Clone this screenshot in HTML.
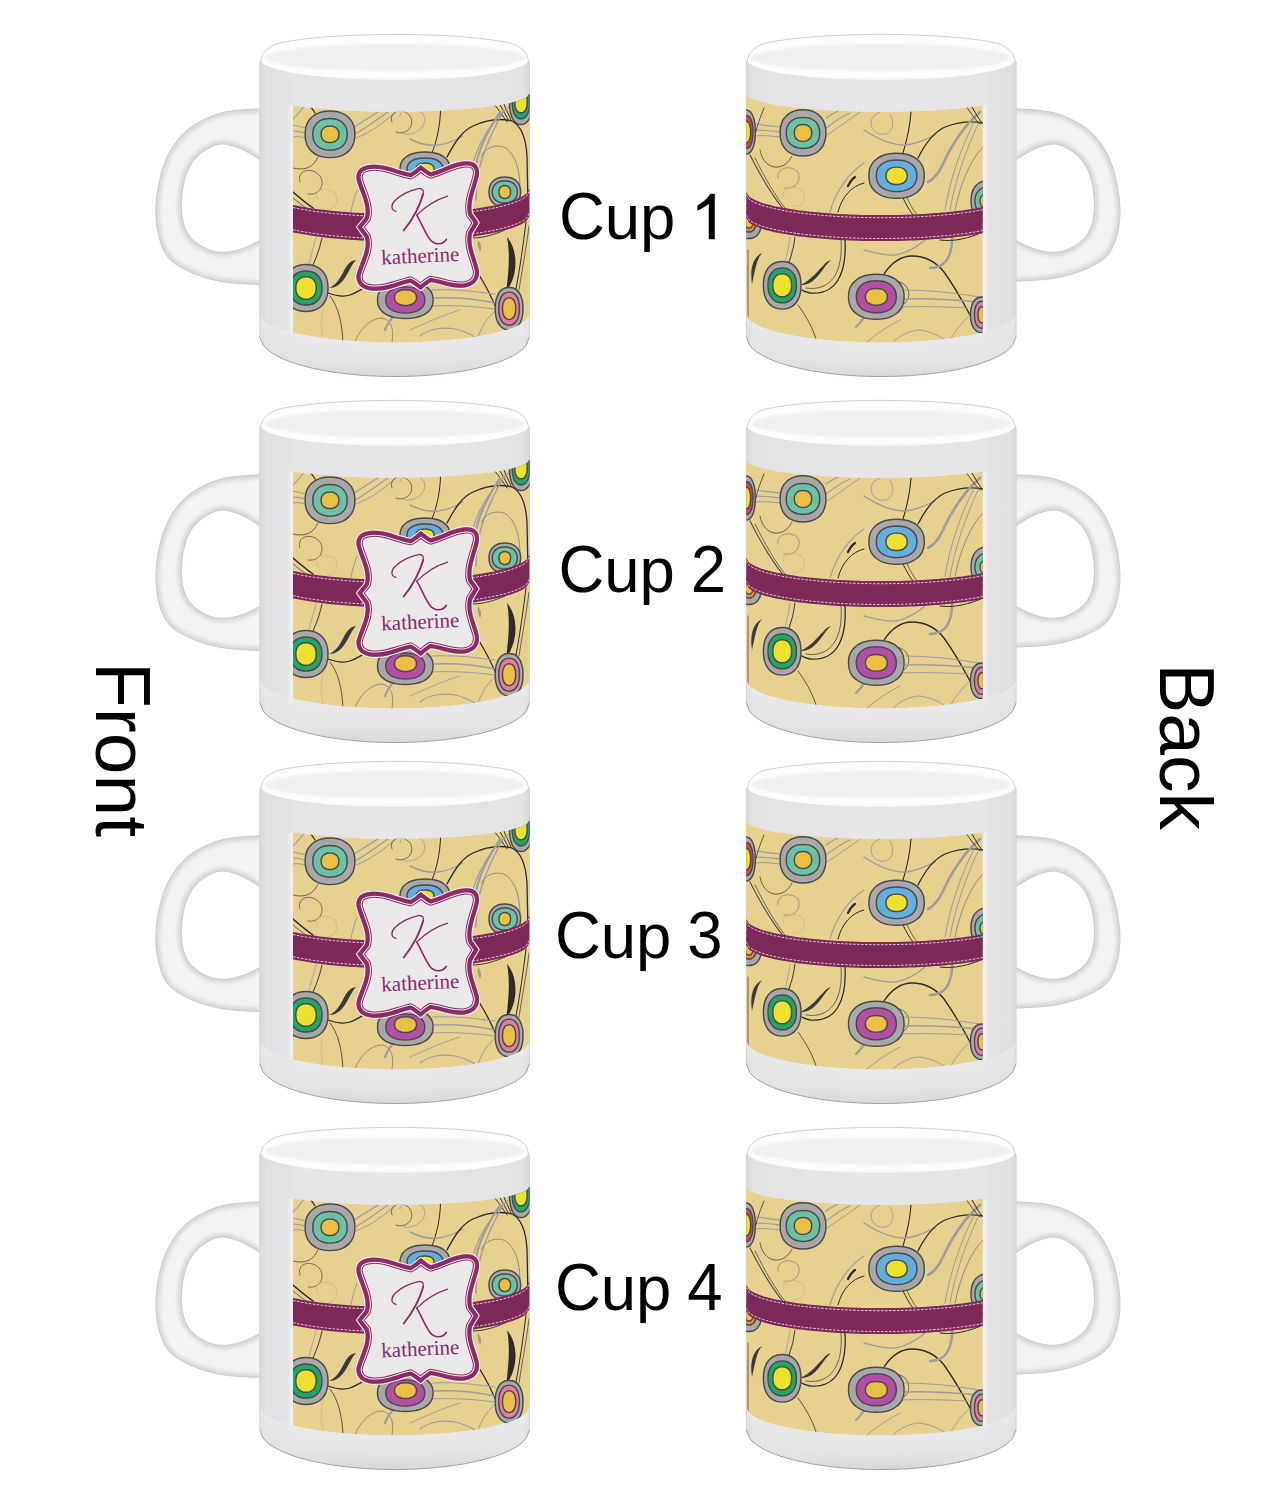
<!DOCTYPE html><html><head><meta charset="utf-8"><style>html,body{margin:0;padding:0;background:#fff;overflow:hidden}svg{display:block}</style></head><body><svg width="1275" height="1500" viewBox="0 0 1275 1500"><defs><clipPath id="clipF"><path d="M293,105.4 L296,105.9 L298.9,106.3 L301.9,106.7 L304.8,107.1 L307.8,107.4 L310.7,107.8 L313.7,108.1 L316.7,108.4 L319.6,108.6 L322.6,108.9 L325.5,109.1 L328.5,109.4 L331.4,109.6 L334.4,109.8 L337.4,110 L340.3,110.2 L343.3,110.4 L346.2,110.5 L349.2,110.7 L352.1,110.8 L355.1,110.9 L358.1,111.1 L361,111.2 L364,111.3 L366.9,111.4 L369.9,111.4 L372.9,111.5 L375.8,111.6 L378.8,111.6 L381.7,111.7 L384.7,111.7 L387.6,111.7 L390.6,111.7 L393.6,111.7 L396.5,111.7 L399.5,111.7 L402.4,111.7 L405.4,111.7 L408.3,111.7 L411.3,111.6 L414.3,111.6 L417.2,111.5 L420.2,111.4 L423.1,111.3 L426.1,111.3 L429,111.1 L432,111 L435,110.9 L437.9,110.8 L440.9,110.6 L443.8,110.5 L446.8,110.3 L449.7,110.2 L452.7,110 L455.7,109.8 L458.6,109.6 L461.6,109.3 L464.5,109.1 L467.5,108.9 L470.5,108.6 L473.4,108.3 L476.4,108 L479.3,107.7 L482.3,107.4 L485.2,107 L488.2,106.6 L491.2,106.2 L494.1,105.8 L497.1,105.4 L500,104.9 L503,104.4 L505.9,103.8 L508.9,103.2 L511.9,102.5 L514.8,101.8 L517.8,100.9 L520.7,100 L523.7,98.8 L526.6,97.3 L529.6,93.5 L529.6,313.7 L526.6,319.7 L523.7,322.1 L520.7,323.9 L517.8,325.5 L514.8,326.8 L511.9,327.9 L508.9,329 L505.9,329.9 L503,330.8 L500,331.6 L497.1,332.4 L494.1,333.1 L491.2,333.8 L488.2,334.4 L485.2,335 L482.3,335.5 L479.3,336.1 L476.4,336.5 L473.4,337 L470.5,337.5 L467.5,337.9 L464.5,338.3 L461.6,338.6 L458.6,339 L455.7,339.3 L452.7,339.6 L449.7,339.9 L446.8,340.2 L443.8,340.4 L440.9,340.7 L437.9,340.9 L435,341.1 L432,341.3 L429,341.5 L426.1,341.6 L423.1,341.8 L420.2,341.9 L417.2,342 L414.3,342.1 L411.3,342.2 L408.3,342.3 L405.4,342.3 L402.4,342.4 L399.5,342.4 L396.5,342.4 L393.6,342.4 L390.6,342.4 L387.6,342.4 L384.7,342.3 L381.7,342.3 L378.8,342.2 L375.8,342.1 L372.9,342 L369.9,341.9 L366.9,341.8 L364,341.6 L361,341.5 L358.1,341.3 L355.1,341.1 L352.1,340.9 L349.2,340.7 L346.2,340.5 L343.3,340.2 L340.3,340 L337.4,339.7 L334.4,339.4 L331.4,339 L328.5,338.7 L325.5,338.3 L322.6,337.9 L319.6,337.5 L316.7,337.1 L313.7,336.6 L310.7,336.1 L307.8,335.6 L304.8,335.1 L301.9,334.5 L298.9,333.9 L296,333.2 L293,332.5Z"/></clipPath><clipPath id="clipB"><path d="M746.2,93.5 L749.2,97.3 L752.1,98.8 L755.1,100 L758,100.9 L761,101.8 L763.9,102.5 L766.9,103.2 L769.9,103.8 L772.8,104.4 L775.8,104.9 L778.7,105.4 L781.7,105.8 L784.6,106.2 L787.6,106.6 L790.6,107 L793.5,107.4 L796.5,107.7 L799.4,108 L802.4,108.3 L805.4,108.6 L808.3,108.9 L811.3,109.1 L814.2,109.3 L817.2,109.6 L820.1,109.8 L823.1,110 L826.1,110.2 L829,110.3 L832,110.5 L834.9,110.6 L837.9,110.8 L840.8,110.9 L843.8,111 L846.8,111.1 L849.7,111.3 L852.7,111.3 L855.6,111.4 L858.6,111.5 L861.5,111.6 L864.5,111.6 L867.5,111.7 L870.4,111.7 L873.4,111.7 L876.3,111.7 L879.3,111.7 L882.2,111.7 L885.2,111.7 L888.2,111.7 L891.1,111.7 L894.1,111.7 L897,111.6 L900,111.6 L902.9,111.5 L905.9,111.4 L908.9,111.4 L911.8,111.3 L914.8,111.2 L917.7,111.1 L920.7,110.9 L923.6,110.8 L926.6,110.7 L929.6,110.5 L932.5,110.4 L935.5,110.2 L938.4,110 L941.4,109.8 L944.4,109.6 L947.3,109.4 L950.3,109.1 L953.2,108.9 L956.2,108.6 L959.1,108.4 L962.1,108.1 L965.1,107.8 L968,107.4 L971,107.1 L973.9,106.7 L976.9,106.3 L979.8,105.9 L982.8,105.4 L982.8,332.5 L979.8,333.2 L976.9,333.9 L973.9,334.5 L971,335.1 L968,335.6 L965.1,336.1 L962.1,336.6 L959.1,337.1 L956.2,337.5 L953.2,337.9 L950.3,338.3 L947.3,338.7 L944.4,339 L941.4,339.4 L938.4,339.7 L935.5,340 L932.5,340.2 L929.6,340.5 L926.6,340.7 L923.6,340.9 L920.7,341.1 L917.7,341.3 L914.8,341.5 L911.8,341.6 L908.9,341.8 L905.9,341.9 L902.9,342 L900,342.1 L897,342.2 L894.1,342.3 L891.1,342.3 L888.2,342.4 L885.2,342.4 L882.2,342.4 L879.3,342.4 L876.3,342.4 L873.4,342.4 L870.4,342.3 L867.5,342.3 L864.5,342.2 L861.5,342.1 L858.6,342 L855.6,341.9 L852.7,341.8 L849.7,341.6 L846.8,341.5 L843.8,341.3 L840.8,341.1 L837.9,340.9 L834.9,340.7 L832,340.4 L829,340.2 L826.1,339.9 L823.1,339.6 L820.1,339.3 L817.2,339 L814.2,338.6 L811.3,338.3 L808.3,337.9 L805.4,337.5 L802.4,337 L799.4,336.5 L796.5,336.1 L793.5,335.5 L790.6,335 L787.6,334.4 L784.6,333.8 L781.7,333.1 L778.7,332.4 L775.8,331.6 L772.8,330.8 L769.9,329.9 L766.9,329 L763.9,327.9 L761,326.8 L758,325.5 L755.1,323.9 L752.1,322.1 L749.2,319.7 L746.2,313.7Z"/></clipPath><clipPath id="clipL"><path d="M420.7,165.1 C417.6,167.4 414,171.2 410.3,173 C397.8,170.6 386.2,164 372.6,164.7 C361.3,164.8 355.2,170.5 356.7,179.7 C359.3,190.9 368.5,205.4 364.9,217.4 C362.3,220.8 359.3,224.2 357.2,227.1 C359.3,230.2 362.3,233.9 364.9,237.5 C368.5,249.8 359.3,263.5 356.7,274.4 C355.2,283.4 361.3,289.8 372.6,290.7 C386.2,292 397.8,285.5 410.3,282.8 C414,284.5 417.6,288 420.7,290.1 C423.8,287.8 427.4,284 431,282.1 C443,283.9 453.6,289.6 465.6,287.3 C475.1,285.6 480.1,278.9 478.9,270 C476.8,259.2 469.1,246.1 472.1,233.6 C474.3,229.8 476.8,225.9 478.5,222.7 C476.8,219.9 474.3,216.7 472.1,213.5 C469.1,201.8 476.8,186.6 478.9,175.2 C480.1,166 475.1,160.6 465.6,161.3 C453.6,161.6 443,169 431,172.2 C427.4,170.7 423.8,167.2 420.7,165.1 Z"/></clipPath><clipPath id="clipHF"><path d="M262,108.6 C255,109.4 232.8,109.4 220,113.3 C207.2,117.2 194.3,123.5 185,132 C175.7,140.6 168.9,151.4 164,164.6 C159.1,177.8 155.8,196.9 155.8,211.3 C155.8,225.7 159.1,241.3 164,251 C168.9,260.7 175.7,264.6 185,269.6 C194.3,274.7 207.2,278.8 220,281.3 C232.8,283.8 255,284.2 262,284.8 L262,239.3 C259,240.8 250.2,245.8 244,248 C237.8,250.2 230.9,252.2 224.6,252.3 C218.3,252.4 212,251.6 206,248.6 C200,245.6 192.6,240.8 188.5,234.6 C184.4,228.4 182.2,220.4 181.5,211.3 C180.8,202.2 182.1,188.9 184.5,180 C186.9,171.1 190.4,163.9 196,158 C201.6,152.1 210.7,146.1 218,144.5 C225.3,142.9 232.7,145.7 240,148.5 C247.3,151.3 258.3,159 262,161.1 Z"/></clipPath><clipPath id="clipHB"><path d="M1013.8,108.6 C1020.8,109.4 1043,109.4 1055.8,113.3 C1068.6,117.2 1081.5,123.5 1090.8,132 C1100.1,140.6 1106.9,151.4 1111.8,164.6 C1116.7,177.8 1120,197.2 1120,211.3 C1120,225.4 1116.7,239.8 1111.8,249.1 C1106.9,258.4 1100.1,262 1090.8,266.8 C1081.5,271.6 1068.6,275.6 1055.8,278 C1043,280.4 1020.8,280.7 1013.8,281.3 L1013.8,239.3 C1016.8,240.8 1025.6,245.8 1031.8,248 C1038,250.2 1044.9,252.2 1051.2,252.3 C1057.5,252.4 1063.8,251.6 1069.8,248.6 C1075.8,245.6 1083.2,240.8 1087.3,234.6 C1091.4,228.4 1093.6,220.4 1094.3,211.3 C1095,202.2 1093.7,188.9 1091.3,180 C1088.9,171.1 1085.4,163.9 1079.8,158 C1074.2,152.1 1065.1,146.1 1057.8,144.5 C1050.5,142.9 1043.1,145.7 1035.8,148.5 C1028.5,151.3 1017.5,159 1013.8,161.1 Z"/></clipPath><filter id="hblur" x="-10%" y="-10%" width="120%" height="120%"><feGaussianBlur stdDeviation="1.6"/></filter><filter id="soft" x="-5%" y="-30%" width="110%" height="160%"><feGaussianBlur stdDeviation="1.2"/></filter><linearGradient id="bgrad" gradientUnits="userSpaceOnUse" x1="259.6" x2="529.6" y1="0" y2="0"><stop offset="0" stop-color="#dcd9dc"/><stop offset="0.025" stop-color="#e1dfe1"/><stop offset="0.1" stop-color="#e3e1e3"/><stop offset="0.125" stop-color="#e6e4e6"/><stop offset="0.6" stop-color="#e7e5e7"/><stop offset="0.975" stop-color="#e3e1e3"/><stop offset="1" stop-color="#dad6d9"/></linearGradient><linearGradient id="stripgrad" gradientUnits="userSpaceOnUse" x1="287.5" x2="293" y1="0" y2="0"><stop offset="0" stop-color="#ffffff" stop-opacity="0"/><stop offset="0.7" stop-color="#ffffff" stop-opacity="0.4"/><stop offset="1" stop-color="#ffffff" stop-opacity="0.3"/></linearGradient><linearGradient id="botgrad" gradientUnits="userSpaceOnUse" x1="0" x2="0" y1="318" y2="377"><stop offset="0" stop-color="#ffffff" stop-opacity="0.35"/><stop offset="0.35" stop-color="#ffffff" stop-opacity="0.1"/><stop offset="0.8" stop-color="#d9d4d7" stop-opacity="0.25"/><stop offset="1" stop-color="#c9c2c5" stop-opacity="0.5"/></linearGradient><linearGradient id="capgrad" gradientUnits="userSpaceOnUse" x1="0" x2="0" y1="34" y2="84"><stop offset="0" stop-color="#fdfdfd"/><stop offset="0.85" stop-color="#fdfdfd"/><stop offset="1" stop-color="#f6f5f6" stop-opacity="0.3"/></linearGradient><linearGradient id="hgrad" gradientUnits="userSpaceOnUse" x1="0" x2="0" y1="108" y2="287"><stop offset="0" stop-color="#fafafa"/><stop offset="0.5" stop-color="#f6f5f6"/><stop offset="1" stop-color="#efedef"/></linearGradient></defs><g id="row"><path d="M262,108.6 C255,109.4 232.8,109.4 220,113.3 C207.2,117.2 194.3,123.5 185,132 C175.7,140.6 168.9,151.4 164,164.6 C159.1,177.8 155.8,196.9 155.8,211.3 C155.8,225.7 159.1,241.3 164,251 C168.9,260.7 175.7,264.6 185,269.6 C194.3,274.7 207.2,278.8 220,281.3 C232.8,283.8 255,284.2 262,284.8 L262,239.3 C259,240.8 250.2,245.8 244,248 C237.8,250.2 230.9,252.2 224.6,252.3 C218.3,252.4 212,251.6 206,248.6 C200,245.6 192.6,240.8 188.5,234.6 C184.4,228.4 182.2,220.4 181.5,211.3 C180.8,202.2 182.1,188.9 184.5,180 C186.9,171.1 190.4,163.9 196,158 C201.6,152.1 210.7,146.1 218,144.5 C225.3,142.9 232.7,145.7 240,148.5 C247.3,151.3 258.3,159 262,161.1 Z" fill="#f4f3f4"/><g clip-path="url(#clipHF)"><g filter="url(#hblur)"><path d="M262,108.6 C255,109.4 232.8,109.4 220,113.3 C207.2,117.2 194.3,123.5 185,132 C175.7,140.6 168.9,151.4 164,164.6 C159.1,177.8 155.8,196.9 155.8,211.3 C155.8,225.7 159.1,241.3 164,251 C168.9,260.7 175.7,264.6 185,269.6 C194.3,274.7 207.2,278.8 220,281.3 C232.8,283.8 255,284.2 262,284.8" fill="none" stroke="#e2dfe2" stroke-width="9"/><path d="M262,108.6 C255,109.4 232.8,109.4 220,113.3 C207.2,117.2 194.3,123.5 185,132 C175.7,140.6 168.9,151.4 164,164.6 C159.1,177.8 155.8,196.9 155.8,211.3 C155.8,225.7 159.1,241.3 164,251 C168.9,260.7 175.7,264.6 185,269.6 C194.3,274.7 207.2,278.8 220,281.3 C232.8,283.8 255,284.2 262,284.8" fill="none" stroke="#d9d5d8" stroke-width="3.5"/><path d="M262,239.3 C259,240.8 250.2,245.8 244,248 C237.8,250.2 230.9,252.2 224.6,252.3 C218.3,252.4 212,251.6 206,248.6 C200,245.6 192.6,240.8 188.5,234.6 C184.4,228.4 182.2,220.4 181.5,211.3 C180.8,202.2 182.1,188.9 184.5,180 C186.9,171.1 190.4,163.9 196,158 C201.6,152.1 210.7,146.1 218,144.5 C225.3,142.9 232.7,145.7 240,148.5 C247.3,151.3 258.3,159 262,161.1" fill="none" stroke="#e1dee1" stroke-width="9"/><path d="M262,239.3 C259,240.8 250.2,245.8 244,248 C237.8,250.2 230.9,252.2 224.6,252.3 C218.3,252.4 212,251.6 206,248.6 C200,245.6 192.6,240.8 188.5,234.6 C184.4,228.4 182.2,220.4 181.5,211.3 C180.8,202.2 182.1,188.9 184.5,180 C186.9,171.1 190.4,163.9 196,158 C201.6,152.1 210.7,146.1 218,144.5 C225.3,142.9 232.7,145.7 240,148.5 C247.3,151.3 258.3,159 262,161.1" fill="none" stroke="#d6d2d5" stroke-width="3"/></g></g><path d="M262,108.6 C255,109.4 232.8,109.4 220,113.3 C207.2,117.2 194.3,123.5 185,132 C175.7,140.6 168.9,151.4 164,164.6 C159.1,177.8 155.8,196.9 155.8,211.3 C155.8,225.7 159.1,241.3 164,251 C168.9,260.7 175.7,264.6 185,269.6 C194.3,274.7 207.2,278.8 220,281.3 C232.8,283.8 255,284.2 262,284.8 L262,239.3 C259,240.8 250.2,245.8 244,248 C237.8,250.2 230.9,252.2 224.6,252.3 C218.3,252.4 212,251.6 206,248.6 C200,245.6 192.6,240.8 188.5,234.6 C184.4,228.4 182.2,220.4 181.5,211.3 C180.8,202.2 182.1,188.9 184.5,180 C186.9,171.1 190.4,163.9 196,158 C201.6,152.1 210.7,146.1 218,144.5 C225.3,142.9 232.7,145.7 240,148.5 C247.3,151.3 258.3,159 262,161.1 Z" fill="none" stroke="#c9c5c8" stroke-width="0.9"/><path d="M1013.8,108.6 C1020.8,109.4 1043,109.4 1055.8,113.3 C1068.6,117.2 1081.5,123.5 1090.8,132 C1100.1,140.6 1106.9,151.4 1111.8,164.6 C1116.7,177.8 1120,197.2 1120,211.3 C1120,225.4 1116.7,239.8 1111.8,249.1 C1106.9,258.4 1100.1,262 1090.8,266.8 C1081.5,271.6 1068.6,275.6 1055.8,278 C1043,280.4 1020.8,280.7 1013.8,281.3 L1013.8,239.3 C1016.8,240.8 1025.6,245.8 1031.8,248 C1038,250.2 1044.9,252.2 1051.2,252.3 C1057.5,252.4 1063.8,251.6 1069.8,248.6 C1075.8,245.6 1083.2,240.8 1087.3,234.6 C1091.4,228.4 1093.6,220.4 1094.3,211.3 C1095,202.2 1093.7,188.9 1091.3,180 C1088.9,171.1 1085.4,163.9 1079.8,158 C1074.2,152.1 1065.1,146.1 1057.8,144.5 C1050.5,142.9 1043.1,145.7 1035.8,148.5 C1028.5,151.3 1017.5,159 1013.8,161.1 Z" fill="#f4f3f4"/><g clip-path="url(#clipHB)"><g filter="url(#hblur)"><path d="M1013.8,108.6 C1020.8,109.4 1043,109.4 1055.8,113.3 C1068.6,117.2 1081.5,123.5 1090.8,132 C1100.1,140.6 1106.9,151.4 1111.8,164.6 C1116.7,177.8 1120,197.2 1120,211.3 C1120,225.4 1116.7,239.8 1111.8,249.1 C1106.9,258.4 1100.1,262 1090.8,266.8 C1081.5,271.6 1068.6,275.6 1055.8,278 C1043,280.4 1020.8,280.7 1013.8,281.3" fill="none" stroke="#e2dfe2" stroke-width="9"/><path d="M1013.8,108.6 C1020.8,109.4 1043,109.4 1055.8,113.3 C1068.6,117.2 1081.5,123.5 1090.8,132 C1100.1,140.6 1106.9,151.4 1111.8,164.6 C1116.7,177.8 1120,197.2 1120,211.3 C1120,225.4 1116.7,239.8 1111.8,249.1 C1106.9,258.4 1100.1,262 1090.8,266.8 C1081.5,271.6 1068.6,275.6 1055.8,278 C1043,280.4 1020.8,280.7 1013.8,281.3" fill="none" stroke="#d9d5d8" stroke-width="3.5"/><path d="M1013.8,239.3 C1016.8,240.8 1025.6,245.8 1031.8,248 C1038,250.2 1044.9,252.2 1051.2,252.3 C1057.5,252.4 1063.8,251.6 1069.8,248.6 C1075.8,245.6 1083.2,240.8 1087.3,234.6 C1091.4,228.4 1093.6,220.4 1094.3,211.3 C1095,202.2 1093.7,188.9 1091.3,180 C1088.9,171.1 1085.4,163.9 1079.8,158 C1074.2,152.1 1065.1,146.1 1057.8,144.5 C1050.5,142.9 1043.1,145.7 1035.8,148.5 C1028.5,151.3 1017.5,159 1013.8,161.1" fill="none" stroke="#e1dee1" stroke-width="9"/><path d="M1013.8,239.3 C1016.8,240.8 1025.6,245.8 1031.8,248 C1038,250.2 1044.9,252.2 1051.2,252.3 C1057.5,252.4 1063.8,251.6 1069.8,248.6 C1075.8,245.6 1083.2,240.8 1087.3,234.6 C1091.4,228.4 1093.6,220.4 1094.3,211.3 C1095,202.2 1093.7,188.9 1091.3,180 C1088.9,171.1 1085.4,163.9 1079.8,158 C1074.2,152.1 1065.1,146.1 1057.8,144.5 C1050.5,142.9 1043.1,145.7 1035.8,148.5 C1028.5,151.3 1017.5,159 1013.8,161.1" fill="none" stroke="#d6d2d5" stroke-width="3"/></g></g><path d="M1013.8,108.6 C1020.8,109.4 1043,109.4 1055.8,113.3 C1068.6,117.2 1081.5,123.5 1090.8,132 C1100.1,140.6 1106.9,151.4 1111.8,164.6 C1116.7,177.8 1120,197.2 1120,211.3 C1120,225.4 1116.7,239.8 1111.8,249.1 C1106.9,258.4 1100.1,262 1090.8,266.8 C1081.5,271.6 1068.6,275.6 1055.8,278 C1043,280.4 1020.8,280.7 1013.8,281.3 L1013.8,239.3 C1016.8,240.8 1025.6,245.8 1031.8,248 C1038,250.2 1044.9,252.2 1051.2,252.3 C1057.5,252.4 1063.8,251.6 1069.8,248.6 C1075.8,245.6 1083.2,240.8 1087.3,234.6 C1091.4,228.4 1093.6,220.4 1094.3,211.3 C1095,202.2 1093.7,188.9 1091.3,180 C1088.9,171.1 1085.4,163.9 1079.8,158 C1074.2,152.1 1065.1,146.1 1057.8,144.5 C1050.5,142.9 1043.1,145.7 1035.8,148.5 C1028.5,151.3 1017.5,159 1013.8,161.1 Z" fill="none" stroke="#c9c5c8" stroke-width="0.9"/><path d="M259.6,63.3 L263,53.7 L266.4,49.9 L269.7,47.4 L273.1,45.5 L276.5,44 L279.9,43 L283.2,42.3 L286.6,41.6 L290,41 L293.4,40.5 L296.7,40 L300.1,39.6 L303.5,39.1 L306.9,38.7 L310.2,38.4 L313.6,38 L317,37.7 L320.4,37.4 L323.7,37.1 L327.1,36.8 L330.5,36.6 L333.9,36.3 L337.2,36.1 L340.6,35.9 L344,35.7 L347.4,35.5 L350.7,35.4 L354.1,35.2 L357.5,35.1 L360.9,35 L364.2,34.9 L367.6,34.8 L371,34.7 L374.4,34.6 L377.7,34.5 L381.1,34.5 L384.5,34.5 L387.9,34.4 L391.2,34.4 L394.6,34.4 L398,34.4 L401.4,34.4 L404.7,34.4 L408.1,34.5 L411.5,34.5 L414.9,34.6 L418.2,34.7 L421.6,34.8 L425,34.9 L428.4,35 L431.7,35.1 L435.1,35.2 L438.5,35.4 L441.9,35.5 L445.2,35.7 L448.6,35.9 L452,36.1 L455.4,36.3 L458.7,36.5 L462.1,36.8 L465.5,37.1 L468.9,37.3 L472.2,37.6 L475.6,38 L479,38.3 L482.4,38.7 L485.7,39.1 L489.1,39.5 L492.5,40 L495.9,40.5 L499.2,41 L502.6,41.6 L506,42.2 L509.4,42.9 L512.7,43.9 L516.1,45.3 L519.5,47.2 L522.9,49.8 L526.2,53.5 L529.6,63.3 L529.6,336.5 L526.2,345.4 L522.9,349 L519.5,351.7 L516.1,353.9 L512.7,355.9 L509.4,357.6 L506,359.1 L502.6,360.5 L499.2,361.8 L495.9,363 L492.5,364.1 L489.1,365.1 L485.7,366 L482.4,366.9 L479,367.7 L475.6,368.5 L472.2,369.2 L468.9,369.9 L465.5,370.6 L462.1,371.2 L458.7,371.7 L455.4,372.2 L452,372.7 L448.6,373.2 L445.2,373.6 L441.9,374 L438.5,374.3 L435.1,374.7 L431.7,375 L428.4,375.2 L425,375.5 L421.6,375.7 L418.2,375.9 L414.9,376.1 L411.5,376.2 L408.1,376.3 L404.7,376.4 L401.4,376.5 L398,376.5 L394.6,376.5 L391.2,376.5 L387.9,376.4 L384.5,376.4 L381.1,376.3 L377.7,376.2 L374.4,376 L371,375.9 L367.6,375.7 L364.2,375.5 L360.9,375.2 L357.5,374.9 L354.1,374.6 L350.7,374.3 L347.4,373.9 L344,373.5 L340.6,373.1 L337.2,372.7 L333.9,372.2 L330.5,371.7 L327.1,371.1 L323.7,370.5 L320.4,369.8 L317,369.2 L313.6,368.4 L310.2,367.6 L306.9,366.8 L303.5,365.9 L300.1,365 L296.7,363.9 L293.4,362.8 L290,361.6 L286.6,360.4 L283.2,358.9 L279.9,357.4 L276.5,355.7 L273.1,353.7 L269.7,351.4 L266.4,348.6 L263,344.9 L259.6,336.5Z" fill="url(#bgrad)"/><path d="M259.6,313.7 L263,319.7 L266.4,322.4 L269.7,324.4 L273.1,326 L276.5,327.4 L279.9,328.7 L283.2,329.8 L286.6,330.8 L290,331.7 L293.4,332.6 L296.7,333.4 L300.1,334.1 L303.5,334.8 L306.9,335.4 L310.2,336 L313.6,336.6 L317,337.1 L320.4,337.6 L323.7,338.1 L327.1,338.5 L330.5,338.9 L333.9,339.3 L337.2,339.7 L340.6,340 L344,340.3 L347.4,340.6 L350.7,340.8 L354.1,341.1 L357.5,341.3 L360.9,341.5 L364.2,341.7 L367.6,341.8 L371,341.9 L374.4,342.1 L377.7,342.2 L381.1,342.3 L384.5,342.3 L387.9,342.4 L391.2,342.4 L394.6,342.4 L398,342.4 L401.4,342.4 L404.7,342.3 L408.1,342.3 L411.5,342.2 L414.9,342.1 L418.2,342 L421.6,341.8 L425,341.7 L428.4,341.5 L431.7,341.3 L435.1,341.1 L438.5,340.9 L441.9,340.6 L445.2,340.3 L448.6,340 L452,339.7 L455.4,339.3 L458.7,339 L462.1,338.6 L465.5,338.1 L468.9,337.7 L472.2,337.2 L475.6,336.7 L479,336.1 L482.4,335.5 L485.7,334.9 L489.1,334.2 L492.5,333.5 L495.9,332.7 L499.2,331.8 L502.6,330.9 L506,329.9 L509.4,328.8 L512.7,327.6 L516.1,326.2 L519.5,324.6 L522.9,322.7 L526.2,320.1 L529.6,313.7 L529.6,336.5 L526.2,345.4 L522.9,349 L519.5,351.7 L516.1,353.9 L512.7,355.9 L509.4,357.6 L506,359.1 L502.6,360.5 L499.2,361.8 L495.9,363 L492.5,364.1 L489.1,365.1 L485.7,366 L482.4,366.9 L479,367.7 L475.6,368.5 L472.2,369.2 L468.9,369.9 L465.5,370.6 L462.1,371.2 L458.7,371.7 L455.4,372.2 L452,372.7 L448.6,373.2 L445.2,373.6 L441.9,374 L438.5,374.3 L435.1,374.7 L431.7,375 L428.4,375.2 L425,375.5 L421.6,375.7 L418.2,375.9 L414.9,376.1 L411.5,376.2 L408.1,376.3 L404.7,376.4 L401.4,376.5 L398,376.5 L394.6,376.5 L391.2,376.5 L387.9,376.4 L384.5,376.4 L381.1,376.3 L377.7,376.2 L374.4,376 L371,375.9 L367.6,375.7 L364.2,375.5 L360.9,375.2 L357.5,374.9 L354.1,374.6 L350.7,374.3 L347.4,373.9 L344,373.5 L340.6,373.1 L337.2,372.7 L333.9,372.2 L330.5,371.7 L327.1,371.1 L323.7,370.5 L320.4,369.8 L317,369.2 L313.6,368.4 L310.2,367.6 L306.9,366.8 L303.5,365.9 L300.1,365 L296.7,363.9 L293.4,362.8 L290,361.6 L286.6,360.4 L283.2,358.9 L279.9,357.4 L276.5,355.7 L273.1,353.7 L269.7,351.4 L266.4,348.6 L263,344.9 L259.6,336.5Z" fill="url(#botgrad)"/><path d="M288,105.8 L293,105.8 L293,333 L288,332 Z" fill="url(#stripgrad)"/><path d="M259.6,63.3 L263,53.7 L266.4,49.9 L269.7,47.4 L273.1,45.5 L276.5,44 L279.9,43 L283.2,42.3 L286.6,41.6 L290,41 L293.4,40.5 L296.7,40 L300.1,39.6 L303.5,39.1 L306.9,38.7 L310.2,38.4 L313.6,38 L317,37.7 L320.4,37.4 L323.7,37.1 L327.1,36.8 L330.5,36.6 L333.9,36.3 L337.2,36.1 L340.6,35.9 L344,35.7 L347.4,35.5 L350.7,35.4 L354.1,35.2 L357.5,35.1 L360.9,35 L364.2,34.9 L367.6,34.8 L371,34.7 L374.4,34.6 L377.7,34.5 L381.1,34.5 L384.5,34.5 L387.9,34.4 L391.2,34.4 L394.6,34.4 L398,34.4 L401.4,34.4 L404.7,34.4 L408.1,34.5 L411.5,34.5 L414.9,34.6 L418.2,34.7 L421.6,34.8 L425,34.9 L428.4,35 L431.7,35.1 L435.1,35.2 L438.5,35.4 L441.9,35.5 L445.2,35.7 L448.6,35.9 L452,36.1 L455.4,36.3 L458.7,36.5 L462.1,36.8 L465.5,37.1 L468.9,37.3 L472.2,37.6 L475.6,38 L479,38.3 L482.4,38.7 L485.7,39.1 L489.1,39.5 L492.5,40 L495.9,40.5 L499.2,41 L502.6,41.6 L506,42.2 L509.4,42.9 L512.7,43.9 L516.1,45.3 L519.5,47.2 L522.9,49.8 L526.2,53.5 L529.6,63.3 L529.6,59 L526.2,63.7 L522.9,65.6 L519.5,67 L516.1,68.2 L512.7,69.2 L509.4,70.1 L506,70.9 L502.6,71.6 L499.2,72.3 L495.9,72.9 L492.5,73.5 L489.1,74 L485.7,74.5 L482.4,75 L479,75.4 L475.6,75.8 L472.2,76.2 L468.9,76.5 L465.5,76.9 L462.1,77.2 L458.7,77.5 L455.4,77.8 L452,78 L448.6,78.3 L445.2,78.5 L441.9,78.7 L438.5,78.9 L435.1,79 L431.7,79.2 L428.4,79.3 L425,79.5 L421.6,79.6 L418.2,79.7 L414.9,79.8 L411.5,79.8 L408.1,79.9 L404.7,79.9 L401.4,80 L398,80 L394.6,80 L391.2,80 L387.9,80 L384.5,79.9 L381.1,79.9 L377.7,79.8 L374.4,79.8 L371,79.7 L367.6,79.6 L364.2,79.5 L360.9,79.3 L357.5,79.2 L354.1,79 L350.7,78.8 L347.4,78.7 L344,78.5 L340.6,78.2 L337.2,78 L333.9,77.7 L330.5,77.5 L327.1,77.2 L323.7,76.8 L320.4,76.5 L317,76.1 L313.6,75.8 L310.2,75.4 L306.9,74.9 L303.5,74.4 L300.1,73.9 L296.7,73.4 L293.4,72.8 L290,72.2 L286.6,71.5 L283.2,70.8 L279.9,70 L276.5,69.1 L273.1,68 L269.7,66.8 L266.4,65.4 L263,63.4 L259.6,59Z" fill="url(#capgrad)"/><path d="M265.1,57.7 A129.7,13.8 0 0 1 524.5,57.7 A129.7,13.8 0 0 1 265.1,57.7Z" fill="#f0f0f1" filter="url(#soft)"/><path d="M259.6,63.3 L263,53.7 L266.4,49.9 L269.7,47.4 L273.1,45.5 L276.5,44 L279.9,43 L283.2,42.3 L286.6,41.6 L290,41 L293.4,40.5 L296.7,40 L300.1,39.6 L303.5,39.1 L306.9,38.7 L310.2,38.4 L313.6,38 L317,37.7 L320.4,37.4 L323.7,37.1 L327.1,36.8 L330.5,36.6 L333.9,36.3 L337.2,36.1 L340.6,35.9 L344,35.7 L347.4,35.5 L350.7,35.4 L354.1,35.2 L357.5,35.1 L360.9,35 L364.2,34.9 L367.6,34.8 L371,34.7 L374.4,34.6 L377.7,34.5 L381.1,34.5 L384.5,34.5 L387.9,34.4 L391.2,34.4 L394.6,34.4 L398,34.4 L401.4,34.4 L404.7,34.4 L408.1,34.5 L411.5,34.5 L414.9,34.6 L418.2,34.7 L421.6,34.8 L425,34.9 L428.4,35 L431.7,35.1 L435.1,35.2 L438.5,35.4 L441.9,35.5 L445.2,35.7 L448.6,35.9 L452,36.1 L455.4,36.3 L458.7,36.5 L462.1,36.8 L465.5,37.1 L468.9,37.3 L472.2,37.6 L475.6,38 L479,38.3 L482.4,38.7 L485.7,39.1 L489.1,39.5 L492.5,40 L495.9,40.5 L499.2,41 L502.6,41.6 L506,42.2 L509.4,42.9 L512.7,43.9 L516.1,45.3 L519.5,47.2 L522.9,49.8 L526.2,53.5 L529.6,63.3" fill="none" stroke="#cdc8cb" stroke-width="0.9"/><path d="M259.6,336.5 L263,344.9 L266.4,348.6 L269.7,351.4 L273.1,353.7 L276.5,355.7 L279.9,357.4 L283.2,358.9 L286.6,360.4 L290,361.6 L293.4,362.8 L296.7,363.9 L300.1,365 L303.5,365.9 L306.9,366.8 L310.2,367.6 L313.6,368.4 L317,369.2 L320.4,369.8 L323.7,370.5 L327.1,371.1 L330.5,371.7 L333.9,372.2 L337.2,372.7 L340.6,373.1 L344,373.5 L347.4,373.9 L350.7,374.3 L354.1,374.6 L357.5,374.9 L360.9,375.2 L364.2,375.5 L367.6,375.7 L371,375.9 L374.4,376 L377.7,376.2 L381.1,376.3 L384.5,376.4 L387.9,376.4 L391.2,376.5 L394.6,376.5 L398,376.5 L401.4,376.5 L404.7,376.4 L408.1,376.3 L411.5,376.2 L414.9,376.1 L418.2,375.9 L421.6,375.7 L425,375.5 L428.4,375.2 L431.7,375 L435.1,374.7 L438.5,374.3 L441.9,374 L445.2,373.6 L448.6,373.2 L452,372.7 L455.4,372.2 L458.7,371.7 L462.1,371.2 L465.5,370.6 L468.9,369.9 L472.2,369.2 L475.6,368.5 L479,367.7 L482.4,366.9 L485.7,366 L489.1,365.1 L492.5,364.1 L495.9,363 L499.2,361.8 L502.6,360.5 L506,359.1 L509.4,357.6 L512.7,355.9 L516.1,353.9 L519.5,351.7 L522.9,349 L526.2,345.4 L529.6,336.5" fill="none" stroke="#a69ea2" stroke-width="1.0"/><path d="M259.8,62 L259.8,336" stroke="#d6d2d5" stroke-width="1"/><path d="M529.4,62 L529.4,336" stroke="#d6d2d5" stroke-width="1"/><g clip-path="url(#clipF)"><path d="M293,105.4 L296,105.9 L298.9,106.3 L301.9,106.7 L304.8,107.1 L307.8,107.4 L310.7,107.8 L313.7,108.1 L316.7,108.4 L319.6,108.6 L322.6,108.9 L325.5,109.1 L328.5,109.4 L331.4,109.6 L334.4,109.8 L337.4,110 L340.3,110.2 L343.3,110.4 L346.2,110.5 L349.2,110.7 L352.1,110.8 L355.1,110.9 L358.1,111.1 L361,111.2 L364,111.3 L366.9,111.4 L369.9,111.4 L372.9,111.5 L375.8,111.6 L378.8,111.6 L381.7,111.7 L384.7,111.7 L387.6,111.7 L390.6,111.7 L393.6,111.7 L396.5,111.7 L399.5,111.7 L402.4,111.7 L405.4,111.7 L408.3,111.7 L411.3,111.6 L414.3,111.6 L417.2,111.5 L420.2,111.4 L423.1,111.3 L426.1,111.3 L429,111.1 L432,111 L435,110.9 L437.9,110.8 L440.9,110.6 L443.8,110.5 L446.8,110.3 L449.7,110.2 L452.7,110 L455.7,109.8 L458.6,109.6 L461.6,109.3 L464.5,109.1 L467.5,108.9 L470.5,108.6 L473.4,108.3 L476.4,108 L479.3,107.7 L482.3,107.4 L485.2,107 L488.2,106.6 L491.2,106.2 L494.1,105.8 L497.1,105.4 L500,104.9 L503,104.4 L505.9,103.8 L508.9,103.2 L511.9,102.5 L514.8,101.8 L517.8,100.9 L520.7,100 L523.7,98.8 L526.6,97.3 L529.6,93.5 L529.6,313.7 L526.6,319.7 L523.7,322.1 L520.7,323.9 L517.8,325.5 L514.8,326.8 L511.9,327.9 L508.9,329 L505.9,329.9 L503,330.8 L500,331.6 L497.1,332.4 L494.1,333.1 L491.2,333.8 L488.2,334.4 L485.2,335 L482.3,335.5 L479.3,336.1 L476.4,336.5 L473.4,337 L470.5,337.5 L467.5,337.9 L464.5,338.3 L461.6,338.6 L458.6,339 L455.7,339.3 L452.7,339.6 L449.7,339.9 L446.8,340.2 L443.8,340.4 L440.9,340.7 L437.9,340.9 L435,341.1 L432,341.3 L429,341.5 L426.1,341.6 L423.1,341.8 L420.2,341.9 L417.2,342 L414.3,342.1 L411.3,342.2 L408.3,342.3 L405.4,342.3 L402.4,342.4 L399.5,342.4 L396.5,342.4 L393.6,342.4 L390.6,342.4 L387.6,342.4 L384.7,342.3 L381.7,342.3 L378.8,342.2 L375.8,342.1 L372.9,342 L369.9,341.9 L366.9,341.8 L364,341.6 L361,341.5 L358.1,341.3 L355.1,341.1 L352.1,340.9 L349.2,340.7 L346.2,340.5 L343.3,340.2 L340.3,340 L337.4,339.7 L334.4,339.4 L331.4,339 L328.5,338.7 L325.5,338.3 L322.6,337.9 L319.6,337.5 L316.7,337.1 L313.7,336.6 L310.7,336.1 L307.8,335.6 L304.8,335.1 L301.9,334.5 L298.9,333.9 L296,333.2 L293,332.5Z" fill="#e6d18f"/><path d="M293,125 C298,126 302,127 306,128" fill="none" stroke="#9c9ba0" stroke-width="1.2" stroke-linecap="round"/><path d="M293,131 C298,131 302,132 305,133" fill="none" stroke="#9c9ba0" stroke-width="1.2" stroke-linecap="round"/><path d="M293,137 C298,136 302,137 305,138" fill="none" stroke="#9c9ba0" stroke-width="1.0" stroke-linecap="round"/><path d="M293,119 C297,115 301,111 304,106" fill="none" stroke="#9c9ba0" stroke-width="1.1" stroke-linecap="round"/><path d="M310,106 C312,108 313,110 315,113" fill="none" stroke="#2b2a2c" stroke-width="1.2" stroke-linecap="round"/><path d="M354,127 C362,122 370,117 378,112" fill="none" stroke="#9c9ba0" stroke-width="1.2" stroke-linecap="round"/><path d="M355,134 C366,128 376,120 388,112" fill="none" stroke="#9c9ba0" stroke-width="1.2" stroke-linecap="round"/><path d="M356,138 C372,132 384,122 396,112" fill="none" stroke="#9c9ba0" stroke-width="1.0" stroke-linecap="round"/><path d="M318,157 C312,170 302,170 293,168" fill="none" stroke="#4a4849" stroke-width="0.8" stroke-linecap="round"/><path d="M300,182 C296,170 312,166 320,176 C326,186 318,196 308,194" fill="none" stroke="#4a4849" stroke-width="0.7" stroke-linecap="round"/><path d="M318,200 C312,192 322,186 334,192 C340,200 336,210 326,210" fill="none" stroke="#c9b98a" stroke-width="0.8" stroke-linecap="round"/><path d="M293,192 C300,198 306,203 313,208" fill="none" stroke="#2b2a2c" stroke-width="1.4" stroke-linecap="round"/><path d="M293,198 C298,202 303,206 309,210" fill="none" stroke="#4a4849" stroke-width="0.8" stroke-linecap="round"/><path d="M357,190 C354,198 352,206 350,215" fill="none" stroke="#9d9ca1" stroke-width="1.0" stroke-linecap="round"/><path d="M392,122 C388,112 402,106 410,116 C416,126 406,136 396,132" fill="none" stroke="#4a4849" stroke-width="0.7" stroke-linecap="round"/><path d="M400,116 C400,108 418,104 424,116 C428,126 416,136 404,134" fill="none" stroke="#9d9ca1" stroke-width="0.8" stroke-linecap="round"/><path d="M440.5,111 C440,126 437,140 432,153" fill="none" stroke="#2b2a2c" stroke-width="1.0" stroke-linecap="round"/><path d="M410,139 C420,144 430,146 438,145 C448,144 456,140 463,136" fill="none" stroke="#9d9ca1" stroke-width="1.4" stroke-linecap="round"/><path d="M447,157 C455,142 462,131 473,126 C486,120 500,118 512,121 C522,126 526,140 527,156 L528,205" fill="none" stroke="#2b2a2c" stroke-width="1.3" stroke-linecap="round"/><path d="M494,104 C499,110 503,116 507,122" fill="none" stroke="#333" stroke-width="1.0" stroke-linecap="round"/><path d="M499,103 C503,110 506,116 509,121" fill="none" stroke="#333" stroke-width="1.0" stroke-linecap="round"/><path d="M503,102 C506,109 509,115 511,120" fill="none" stroke="#333" stroke-width="1.0" stroke-linecap="round"/><path d="M472,200 C472,170 478,145 500,112" fill="none" stroke="#9d9ca1" stroke-width="2.2" stroke-linecap="round"/><path d="M476,200 C476,172 482,150 504,110" fill="none" stroke="#9d9ca1" stroke-width="1.4" stroke-linecap="round"/><path d="M470,190 C468,160 486,125 510,106" fill="none" stroke="#9d9ca1" stroke-width="1.2" stroke-linecap="round"/><path d="M481.5,156 C486,146 498,144 506,148 C516,156 520,170 520,189" fill="none" stroke="#7f7e83" stroke-width="0.8" stroke-linecap="round"/><path d="M322,238 C320,248 317,256 313,265" fill="none" stroke="#4a4849" stroke-width="1.1" stroke-linecap="round"/><path d="M316,238 C313,248 311,256 309,264" fill="none" stroke="#9d9ca1" stroke-width="0.8" stroke-linecap="round"/><path d="M328,293 C336,296 344,297 350,295 C356,293 360,290 364,288" fill="none" stroke="#2b2a2c" stroke-width="1.3" stroke-linecap="round"/><path d="M330,296 C338,306 342,322 343,342" fill="none" stroke="#4a4849" stroke-width="0.9" stroke-linecap="round"/><path d="M355,342 C360,328 372,318 382,318 C392,320 394,330 392,342" fill="none" stroke="#7f7e83" stroke-width="0.8" stroke-linecap="round"/><path d="M385,330 C387,325 390,320 393,317" fill="none" stroke="#9d9ca1" stroke-width="2.2" stroke-linecap="round"/><path d="M326,300 C320,312 320,330 324,342" fill="none" stroke="#c9b98a" stroke-width="0.8" stroke-linecap="round"/><path d="M479,275 C486,286 492,298 497,310" fill="none" stroke="#2b2a2c" stroke-width="1.3" stroke-linecap="round"/><path d="M473,238 C484,238 496,234 505,230" fill="none" stroke="#2b2a2c" stroke-width="0.9" stroke-linecap="round"/><path d="M526,222 C523,246 520,268 516,289" fill="none" stroke="#2b2a2c" stroke-width="1.0" stroke-linecap="round"/><path d="M529,226 C526,250 522,270 519,290" fill="none" stroke="#4a4849" stroke-width="0.8" stroke-linecap="round"/><path d="M432,290 C450,289 474,291 495,294" fill="none" stroke="#9d9ca1" stroke-width="1.1" stroke-linecap="round"/><path d="M434,298 C452,297 476,299 496,303" fill="none" stroke="#9d9ca1" stroke-width="1.4" stroke-linecap="round"/><path d="M430,306 C450,305 474,306 494,309" fill="none" stroke="#9d9ca1" stroke-width="1.0" stroke-linecap="round"/><path d="M420,336 C430,328 445,327 455,329 C464,331 470,334 475,337" fill="none" stroke="#9d9ca1" stroke-width="1.1" stroke-linecap="round"/><path d="M478,337 C482,326 488,316 497,310" fill="none" stroke="#9d9ca1" stroke-width="1.0" stroke-linecap="round"/><path d="M410,330 C428,322 446,314 460,310" fill="none" stroke="#9d9ca1" stroke-width="0.9" stroke-linecap="round"/><path d="M507,237 C518,250 519,274 506,292 C509,272 510,252 507,237Z" fill="#2b2a2c"/><path d="M356,260 C343,261 344,282 329,288 C345,288 348,268 356,260Z" fill="#3a393b"/><path d="M478,240 C481,244 482,248 480,252 C478,248 477,244 478,240Z" fill="#9d9ca1"/><path d="M354.9,134.3 C354.9,136.6 354.6,139.2 354.1,141.3 C353.6,143.4 352.9,145.2 351.9,146.9 C350.9,148.6 349.7,150.1 348.3,151.4 C346.9,152.7 345.2,153.9 343.4,154.8 C341.6,155.7 339.7,156.4 337.5,156.9 C335.2,157.4 332.5,157.6 330,157.6 C327.5,157.6 324.8,157.4 322.5,156.9 C320.3,156.4 318.4,155.7 316.6,154.8 C314.8,153.9 313.1,152.7 311.7,151.4 C310.3,150.1 309.1,148.6 308.1,146.9 C307.1,145.2 306.4,143.4 305.9,141.3 C305.4,139.2 305.1,136.6 305.1,134.3 C305.1,132 305.4,129.4 305.9,127.3 C306.4,125.2 307.1,123.4 308.1,121.7 C309.1,120 310.3,118.5 311.7,117.2 C313.1,115.9 314.8,114.7 316.6,113.8 C318.4,112.9 320.3,112.2 322.5,111.7 C324.8,111.2 327.5,111 330,111 C332.5,111 335.2,111.2 337.5,111.7 C339.7,112.2 341.6,112.9 343.4,113.8 C345.2,114.7 346.9,115.9 348.3,117.2 C349.7,118.5 350.9,120 351.9,121.7 C352.9,123.4 353.6,125.2 354.1,127.3 C354.6,129.4 354.9,132 354.9,134.3Z" fill="#a8a7a9" stroke="#4b494b" stroke-width="1.45"/><path d="M347.2,134.3 C347.2,135.9 347,137.6 346.7,139.1 C346.3,140.5 345.8,141.7 345.1,142.8 C344.5,144 343.6,145 342.6,145.9 C341.7,146.8 340.5,147.6 339.3,148.2 C338,148.8 336.7,149.3 335.2,149.6 C333.6,149.9 331.7,150.1 330,150.1 C328.3,150.1 326.4,149.9 324.8,149.6 C323.3,149.3 322,148.8 320.7,148.2 C319.5,147.6 318.3,146.8 317.4,145.9 C316.4,145 315.5,144 314.9,142.8 C314.2,141.7 313.7,140.5 313.3,139.1 C313,137.6 312.8,135.9 312.8,134.3 C312.8,132.7 313,131 313.3,129.5 C313.7,128.1 314.2,126.9 314.9,125.8 C315.5,124.6 316.4,123.6 317.4,122.7 C318.3,121.8 319.5,121 320.7,120.4 C322,119.8 323.3,119.3 324.8,119 C326.4,118.7 328.3,118.5 330,118.5 C331.7,118.5 333.6,118.7 335.2,119 C336.7,119.3 338,119.8 339.3,120.4 C340.5,121 341.7,121.8 342.6,122.7 C343.6,123.6 344.5,124.6 345.1,125.8 C345.8,126.9 346.3,128.1 346.7,129.5 C347,131 347.2,132.7 347.2,134.3Z" fill="#6bc3a7" stroke="#4b494b" stroke-width="1.45"/><path d="M338.9,134.3 C338.9,135.1 338.8,136 338.6,136.8 C338.5,137.5 338.2,138.1 337.8,138.7 C337.5,139.3 337,139.9 336.5,140.3 C336,140.8 335.5,141.2 334.8,141.5 C334.2,141.8 333.5,142.1 332.7,142.3 C331.9,142.4 330.9,142.5 330,142.5 C329.1,142.5 328.1,142.4 327.3,142.3 C326.5,142.1 325.8,141.8 325.2,141.5 C324.5,141.2 324,140.8 323.5,140.3 C323,139.9 322.5,139.3 322.2,138.7 C321.8,138.1 321.5,137.5 321.4,136.8 C321.2,136 321.1,135.1 321.1,134.3 C321.1,133.5 321.2,132.6 321.4,131.8 C321.5,131.1 321.8,130.5 322.2,129.9 C322.5,129.3 323,128.7 323.5,128.3 C324,127.8 324.5,127.4 325.2,127.1 C325.8,126.8 326.5,126.5 327.3,126.3 C328.1,126.2 329.1,126.1 330,126.1 C330.9,126.1 331.9,126.2 332.7,126.3 C333.5,126.5 334.2,126.8 334.8,127.1 C335.5,127.4 336,127.8 336.5,128.3 C337,128.7 337.5,129.3 337.8,129.9 C338.2,130.5 338.5,131.1 338.6,131.8 C338.8,132.6 338.9,133.5 338.9,134.3Z" fill="#eabf45" stroke="#4b494b" stroke-width="1.45"/><path d="M450,169 C450,170.7 449.7,172.6 449.2,174.1 C448.7,175.6 448,177 447,178.2 C446,179.4 444.8,180.5 443.4,181.5 C442,182.5 440.3,183.3 438.5,184 C436.7,184.6 434.8,185.1 432.5,185.5 C430.3,185.8 427.5,186 425,186 C422.5,186 419.7,185.8 417.5,185.5 C415.2,185.1 413.3,184.6 411.5,184 C409.7,183.3 408,182.5 406.6,181.5 C405.2,180.5 404,179.4 403,178.2 C402,177 401.3,175.6 400.8,174.1 C400.3,172.6 400,170.7 400,169 C400,167.3 400.3,165.4 400.8,163.9 C401.3,162.4 402,161 403,159.8 C404,158.6 405.2,157.5 406.6,156.5 C408,155.5 409.7,154.7 411.5,154 C413.3,153.4 415.2,152.9 417.5,152.5 C419.7,152.2 422.5,152 425,152 C427.5,152 430.3,152.2 432.5,152.5 C434.8,152.9 436.7,153.4 438.5,154 C440.3,154.7 442,155.5 443.4,156.5 C444.8,157.5 446,158.6 447,159.8 C448,161 448.7,162.4 449.2,163.9 C449.7,165.4 450,167.3 450,169Z" fill="#a8a7a9" stroke="#4b494b" stroke-width="1.45"/><path d="M443,169 C443,170.1 442.8,171.3 442.5,172.3 C442.1,173.3 441.5,174.1 440.8,174.9 C440.1,175.7 439.2,176.5 438.2,177.1 C437.2,177.7 436,178.2 434.7,178.7 C433.4,179.1 432,179.4 430.4,179.7 C428.8,179.9 426.8,180 425,180 C423.2,180 421.2,179.9 419.6,179.7 C418,179.4 416.6,179.1 415.3,178.7 C414,178.2 412.8,177.7 411.8,177.1 C410.8,176.5 409.9,175.7 409.2,174.9 C408.5,174.1 407.9,173.3 407.5,172.3 C407.2,171.3 407,170.1 407,169 C407,167.9 407.2,166.7 407.5,165.7 C407.9,164.7 408.5,163.9 409.2,163.1 C409.9,162.3 410.8,161.5 411.8,160.9 C412.8,160.3 414,159.8 415.3,159.3 C416.6,158.9 418,158.6 419.6,158.3 C421.2,158.1 423.2,158 425,158 C426.8,158 428.8,158.1 430.4,158.3 C432,158.6 433.4,158.9 434.7,159.3 C436,159.8 437.2,160.3 438.2,160.9 C439.2,161.5 440.1,162.3 440.8,163.1 C441.5,163.9 442.1,164.7 442.5,165.7 C442.8,166.7 443,167.9 443,169Z" fill="#62aedc" stroke="#4b494b" stroke-width="1.45"/><path d="M434,169 C434,169.6 433.9,170.3 433.7,170.8 C433.5,171.3 433.3,171.8 432.9,172.2 C432.6,172.7 432.1,173.1 431.6,173.4 C431.1,173.7 430.5,174 429.9,174.3 C429.2,174.5 428.5,174.7 427.7,174.8 C426.9,174.9 425.9,175 425,175 C424.1,175 423.1,174.9 422.3,174.8 C421.5,174.7 420.8,174.5 420.1,174.3 C419.5,174 418.9,173.7 418.4,173.4 C417.9,173.1 417.4,172.7 417.1,172.2 C416.7,171.8 416.5,171.3 416.3,170.8 C416.1,170.3 416,169.6 416,169 C416,168.4 416.1,167.7 416.3,167.2 C416.5,166.7 416.7,166.2 417.1,165.8 C417.4,165.3 417.9,164.9 418.4,164.6 C418.9,164.3 419.5,164 420.1,163.7 C420.8,163.5 421.5,163.3 422.3,163.2 C423.1,163.1 424.1,163 425,163 C425.9,163 426.9,163.1 427.7,163.2 C428.5,163.3 429.2,163.5 429.9,163.7 C430.5,164 431.1,164.3 431.6,164.6 C432.1,164.9 432.6,165.3 432.9,165.8 C433.3,166.2 433.5,166.7 433.7,167.2 C433.9,167.7 434,168.4 434,169Z" fill="#ece12f" stroke="#4b494b" stroke-width="1.45"/><path d="M532.5,102 C532.5,104.3 532.4,106.7 532.2,108.8 C531.9,110.8 531.6,112.5 531.1,114.2 C530.7,115.8 530.1,117.3 529.5,118.5 C528.8,119.8 528,120.9 527.2,121.8 C526.4,122.7 525.5,123.4 524.5,123.8 C523.4,124.3 522.2,124.5 521,124.5 C519.8,124.5 518.6,124.3 517.5,123.8 C516.5,123.4 515.6,122.7 514.8,121.8 C514,120.9 513.2,119.8 512.5,118.5 C511.9,117.3 511.3,115.8 510.9,114.2 C510.4,112.5 510.1,110.8 509.8,108.8 C509.6,106.7 509.5,104.3 509.5,102 C509.5,99.7 509.6,97.3 509.8,95.2 C510.1,93.2 510.4,91.5 510.9,89.8 C511.3,88.2 511.9,86.7 512.5,85.5 C513.2,84.2 514,83.1 514.8,82.2 C515.6,81.3 516.5,80.6 517.5,80.2 C518.6,79.7 519.8,79.5 521,79.5 C522.2,79.5 523.4,79.7 524.5,80.2 C525.5,80.6 526.4,81.3 527.2,82.2 C528,83.1 528.8,84.2 529.5,85.5 C530.1,86.7 530.7,88.2 531.1,89.8 C531.6,91.5 531.9,93.2 532.2,95.2 C532.4,97.3 532.5,99.7 532.5,102Z" fill="#a8a7a9" stroke="#4b494b" stroke-width="1.45"/><path d="M529.8,102 C529.8,103.7 529.7,105.5 529.5,107.1 C529.4,108.6 529.1,109.9 528.7,111.1 C528.4,112.3 528,113.4 527.5,114.3 C527,115.3 526.4,116.1 525.8,116.8 C525.1,117.4 524.4,118 523.6,118.3 C522.9,118.6 521.9,118.8 521,118.8 C520.1,118.8 519.1,118.6 518.4,118.3 C517.6,118 516.9,117.4 516.2,116.8 C515.6,116.1 515,115.3 514.5,114.3 C514,113.4 513.6,112.3 513.3,111.1 C512.9,109.9 512.6,108.6 512.5,107.1 C512.3,105.5 512.2,103.7 512.2,102 C512.2,100.3 512.3,98.5 512.5,96.9 C512.6,95.4 512.9,94.1 513.3,92.9 C513.6,91.7 514,90.6 514.5,89.7 C515,88.7 515.6,87.9 516.2,87.2 C516.9,86.6 517.6,86 518.4,85.7 C519.1,85.4 520.1,85.2 521,85.2 C521.9,85.2 522.9,85.4 523.6,85.7 C524.4,86 525.1,86.6 525.8,87.2 C526.4,87.9 527,88.7 527.5,89.7 C528,90.6 528.4,91.7 528.7,92.9 C529.1,94.1 529.4,95.4 529.5,96.9 C529.7,98.5 529.8,100.3 529.8,102Z" fill="#1fa766" stroke="#4b494b" stroke-width="1.45"/><path d="M527.2,102 C527.2,103.1 527.1,104.3 527,105.2 C526.9,106.2 526.7,107.1 526.5,107.8 C526.2,108.6 525.9,109.3 525.6,109.9 C525.2,110.5 524.8,111.1 524.3,111.5 C523.9,111.9 523.4,112.3 522.9,112.5 C522.3,112.7 521.6,112.8 521,112.8 C520.4,112.8 519.7,112.7 519.1,112.5 C518.6,112.3 518.1,111.9 517.7,111.5 C517.2,111.1 516.8,110.5 516.4,109.9 C516.1,109.3 515.8,108.6 515.5,107.8 C515.3,107.1 515.1,106.2 515,105.2 C514.9,104.3 514.8,103.1 514.8,102 C514.8,100.9 514.9,99.7 515,98.8 C515.1,97.8 515.3,96.9 515.5,96.2 C515.8,95.4 516.1,94.7 516.4,94.1 C516.8,93.5 517.2,92.9 517.7,92.5 C518.1,92.1 518.6,91.7 519.1,91.5 C519.7,91.3 520.4,91.2 521,91.2 C521.6,91.2 522.3,91.3 522.9,91.5 C523.4,91.7 523.9,92.1 524.3,92.5 C524.8,92.9 525.2,93.5 525.6,94.1 C525.9,94.7 526.2,95.4 526.5,96.2 C526.7,96.9 526.9,97.8 527,98.8 C527.1,99.7 527.2,100.9 527.2,102Z" fill="#ece12f" stroke="#4b494b" stroke-width="1.45"/><path d="M520.6,192 C520.6,193.5 520.4,195.2 520.1,196.5 C519.8,197.9 519.3,199 518.7,200.1 C518.1,201.2 517.3,202.2 516.4,203 C515.5,203.9 514.5,204.6 513.3,205.2 C512.2,205.8 511,206.2 509.6,206.5 C508.1,206.8 506.4,207 504.8,207 C503.2,207 501.5,206.8 500,206.5 C498.6,206.2 497.4,205.8 496.3,205.2 C495.1,204.6 494.1,203.9 493.2,203 C492.3,202.2 491.5,201.2 490.9,200.1 C490.3,199 489.8,197.9 489.5,196.5 C489.2,195.2 489,193.5 489,192 C489,190.5 489.2,188.8 489.5,187.5 C489.8,186.1 490.3,185 490.9,183.9 C491.5,182.8 492.3,181.8 493.2,181 C494.1,180.1 495.1,179.4 496.3,178.8 C497.4,178.2 498.6,177.8 500,177.5 C501.5,177.2 503.2,177 504.8,177 C506.4,177 508.1,177.2 509.6,177.5 C511,177.8 512.2,178.2 513.3,178.8 C514.5,179.4 515.5,180.1 516.4,181 C517.3,181.8 518.1,182.8 518.7,183.9 C519.3,185 519.8,186.1 520.1,187.5 C520.4,188.8 520.6,190.5 520.6,192Z" fill="#a8a7a9" stroke="#4b494b" stroke-width="1.45"/><path d="M517.3,192 C517.3,193.1 517.2,194.3 516.9,195.3 C516.7,196.3 516.3,197.1 515.8,197.9 C515.3,198.7 514.7,199.5 514,200.1 C513.3,200.7 512.5,201.2 511.6,201.7 C510.6,202.1 509.7,202.4 508.6,202.7 C507.4,202.9 506.1,203 504.8,203 C503.5,203 502.2,202.9 501,202.7 C499.9,202.4 499,202.1 498,201.7 C497.1,201.2 496.3,200.7 495.6,200.1 C494.9,199.5 494.3,198.7 493.8,197.9 C493.3,197.1 492.9,196.3 492.7,195.3 C492.4,194.3 492.3,193.1 492.3,192 C492.3,190.9 492.4,189.7 492.7,188.7 C492.9,187.7 493.3,186.9 493.8,186.1 C494.3,185.3 494.9,184.5 495.6,183.9 C496.3,183.3 497.1,182.8 498,182.3 C499,181.9 499.9,181.6 501,181.3 C502.2,181.1 503.5,181 504.8,181 C506.1,181 507.4,181.1 508.6,181.3 C509.7,181.6 510.6,181.9 511.6,182.3 C512.5,182.8 513.3,183.3 514,183.9 C514.7,184.5 515.3,185.3 515.8,186.1 C516.3,186.9 516.7,187.7 516.9,188.7 C517.2,189.7 517.3,190.9 517.3,192Z" fill="#6bc3a7" stroke="#4b494b" stroke-width="1.45"/><path d="M510.6,192 C510.6,192.7 510.5,193.4 510.4,194 C510.3,194.5 510.1,195 509.9,195.5 C509.7,196 509.4,196.4 509.1,196.8 C508.7,197.1 508.4,197.5 507.9,197.7 C507.5,198 507.1,198.2 506.5,198.3 C506,198.4 505.4,198.5 504.8,198.5 C504.2,198.5 503.6,198.4 503.1,198.3 C502.5,198.2 502.1,198 501.7,197.7 C501.2,197.5 500.9,197.1 500.5,196.8 C500.2,196.4 499.9,196 499.7,195.5 C499.5,195 499.3,194.5 499.2,194 C499.1,193.4 499,192.7 499,192 C499,191.3 499.1,190.6 499.2,190 C499.3,189.5 499.5,189 499.7,188.5 C499.9,188 500.2,187.6 500.5,187.2 C500.9,186.9 501.2,186.5 501.7,186.3 C502.1,186 502.5,185.8 503.1,185.7 C503.6,185.6 504.2,185.5 504.8,185.5 C505.4,185.5 506,185.6 506.5,185.7 C507.1,185.8 507.5,186 507.9,186.3 C508.4,186.5 508.7,186.9 509.1,187.2 C509.4,187.6 509.7,188 509.9,188.5 C510.1,189 510.3,189.5 510.4,190 C510.5,190.6 510.6,191.3 510.6,192Z" fill="#eabf45" stroke="#4b494b" stroke-width="1.45"/><path d="M328,288 C328,290.4 327.8,293 327.3,295.1 C326.9,297.2 326.2,299 325.4,300.7 C324.5,302.4 323.4,303.9 322.2,305.3 C320.9,306.6 319.5,307.8 317.9,308.7 C316.3,309.6 314.6,310.3 312.6,310.8 C310.6,311.3 308.2,311.5 306,311.5 C303.8,311.5 301.4,311.3 299.4,310.8 C297.4,310.3 295.7,309.6 294.1,308.7 C292.5,307.8 291.1,306.6 289.8,305.3 C288.6,303.9 287.5,302.4 286.6,300.7 C285.8,299 285.1,297.2 284.7,295.1 C284.2,293 284,290.4 284,288 C284,285.6 284.2,283 284.7,280.9 C285.1,278.8 285.8,277 286.6,275.3 C287.5,273.6 288.6,272.1 289.8,270.7 C291.1,269.4 292.5,268.2 294.1,267.3 C295.7,266.4 297.4,265.7 299.4,265.2 C301.4,264.7 303.8,264.5 306,264.5 C308.2,264.5 310.6,264.7 312.6,265.2 C314.6,265.7 316.3,266.4 317.9,267.3 C319.5,268.2 320.9,269.4 322.2,270.7 C323.4,272.1 324.5,273.6 325.4,275.3 C326.2,277 326.9,278.8 327.3,280.9 C327.8,283 328,285.6 328,288Z" fill="#a8a7a9" stroke="#4b494b" stroke-width="1.45"/><path d="M322,288 C322,289.7 321.8,291.6 321.5,293.1 C321.2,294.6 320.7,296 320.1,297.2 C319.5,298.4 318.7,299.5 317.8,300.5 C316.9,301.5 315.8,302.3 314.6,303 C313.5,303.6 312.3,304.1 310.8,304.5 C309.4,304.8 307.6,305 306,305 C304.4,305 302.6,304.8 301.2,304.5 C299.7,304.1 298.5,303.6 297.4,303 C296.2,302.3 295.1,301.5 294.2,300.5 C293.3,299.5 292.5,298.4 291.9,297.2 C291.3,296 290.8,294.6 290.5,293.1 C290.2,291.6 290,289.7 290,288 C290,286.3 290.2,284.4 290.5,282.9 C290.8,281.4 291.3,280 291.9,278.8 C292.5,277.6 293.3,276.5 294.2,275.5 C295.1,274.5 296.2,273.7 297.4,273 C298.5,272.4 299.7,271.9 301.2,271.5 C302.6,271.2 304.4,271 306,271 C307.6,271 309.4,271.2 310.8,271.5 C312.3,271.9 313.5,272.4 314.6,273 C315.8,273.7 316.9,274.5 317.8,275.5 C318.7,276.5 319.5,277.6 320.1,278.8 C320.7,280 321.2,281.4 321.5,282.9 C321.8,284.4 322,286.3 322,288Z" fill="#1fa766" stroke="#4b494b" stroke-width="1.45"/><path d="M316.2,288 C316.2,289.1 316.1,290.4 315.9,291.4 C315.7,292.4 315.4,293.3 315,294.1 C314.6,294.9 314.1,295.7 313.5,296.3 C312.9,296.9 312.2,297.5 311.5,297.9 C310.8,298.4 310,298.7 309.1,299 C308.1,299.2 307,299.3 306,299.3 C305,299.3 303.9,299.2 302.9,299 C302,298.7 301.2,298.4 300.5,297.9 C299.8,297.5 299.1,296.9 298.5,296.3 C297.9,295.7 297.4,294.9 297,294.1 C296.6,293.3 296.3,292.4 296.1,291.4 C295.9,290.4 295.8,289.1 295.8,288 C295.8,286.9 295.9,285.6 296.1,284.6 C296.3,283.6 296.6,282.7 297,281.9 C297.4,281.1 297.9,280.3 298.5,279.7 C299.1,279.1 299.8,278.5 300.5,278.1 C301.2,277.6 302,277.3 302.9,277 C303.9,276.8 305,276.7 306,276.7 C307,276.7 308.1,276.8 309.1,277 C310,277.3 310.8,277.6 311.5,278.1 C312.2,278.5 312.9,279.1 313.5,279.7 C314.1,280.3 314.6,281.1 315,281.9 C315.4,282.7 315.7,283.6 315.9,284.6 C316.1,285.6 316.2,286.9 316.2,288Z" fill="#ece12f" stroke="#4b494b" stroke-width="1.45"/><path d="M433.1,300 C433.1,301.9 432.8,303.9 432.3,305.6 C431.7,307.2 430.9,308.7 429.8,310 C428.7,311.3 427.3,312.5 425.7,313.6 C424.2,314.6 422.3,315.6 420.3,316.3 C418.3,317 416.2,317.6 413.7,317.9 C411.2,318.3 408.1,318.5 405.3,318.5 C402.5,318.5 399.4,318.3 396.9,317.9 C394.4,317.6 392.3,317 390.3,316.3 C388.3,315.6 386.4,314.6 384.9,313.6 C383.3,312.5 381.9,311.3 380.8,310 C379.7,308.7 378.9,307.2 378.3,305.6 C377.8,303.9 377.5,301.9 377.5,300 C377.5,298.1 377.8,296.1 378.3,294.4 C378.9,292.8 379.7,291.3 380.8,290 C381.9,288.7 383.3,287.5 384.9,286.4 C386.4,285.4 388.3,284.4 390.3,283.7 C392.3,283 394.4,282.4 396.9,282.1 C399.4,281.7 402.5,281.5 405.3,281.5 C408.1,281.5 411.2,281.7 413.7,282.1 C416.2,282.4 418.3,283 420.3,283.7 C422.3,284.4 424.2,285.4 425.7,286.4 C427.3,287.5 428.7,288.7 429.8,290 C430.9,291.3 431.7,292.8 432.3,294.4 C432.8,296.1 433.1,298.1 433.1,300Z" fill="#a8a7a9" stroke="#4b494b" stroke-width="1.45"/><path d="M424.8,300 C424.8,301.3 424.6,302.7 424.2,303.9 C423.8,305.1 423.2,306.1 422.5,307 C421.7,308 420.7,308.8 419.6,309.6 C418.5,310.3 417.2,310.9 415.8,311.4 C414.4,311.9 412.9,312.3 411.2,312.6 C409.4,312.9 407.3,313 405.3,313 C403.3,313 401.2,312.9 399.4,312.6 C397.7,312.3 396.2,311.9 394.8,311.4 C393.4,310.9 392.1,310.3 391,309.6 C389.9,308.8 388.9,308 388.1,307 C387.4,306.1 386.8,305.1 386.4,303.9 C386,302.7 385.8,301.3 385.8,300 C385.8,298.7 386,297.3 386.4,296.1 C386.8,294.9 387.4,293.9 388.1,293 C388.9,292 389.9,291.2 391,290.4 C392.1,289.7 393.4,289.1 394.8,288.6 C396.2,288.1 397.7,287.7 399.4,287.4 C401.2,287.1 403.3,287 405.3,287 C407.3,287 409.4,287.1 411.2,287.4 C412.9,287.7 414.4,288.1 415.8,288.6 C417.2,289.1 418.5,289.7 419.6,290.4 C420.7,291.2 421.7,292 422.5,293 C423.2,293.9 423.8,294.9 424.2,296.1 C424.6,297.3 424.8,298.7 424.8,300Z" fill="#b350a6" stroke="#4b494b" stroke-width="1.45"/><path d="M416.5,297.6 C416.5,298.4 416.4,299.2 416.2,299.9 C415.9,300.6 415.6,301.2 415.2,301.8 C414.7,302.4 414.2,302.9 413.6,303.3 C413,303.8 412.2,304.2 411.4,304.5 C410.6,304.8 409.8,305 408.8,305.2 C407.8,305.3 406.6,305.4 405.5,305.4 C404.4,305.4 403.2,305.3 402.2,305.2 C401.2,305 400.4,304.8 399.6,304.5 C398.8,304.2 398,303.8 397.4,303.3 C396.8,302.9 396.3,302.4 395.8,301.8 C395.4,301.2 395.1,300.6 394.8,299.9 C394.6,299.2 394.5,298.4 394.5,297.6 C394.5,296.8 394.6,296 394.8,295.3 C395.1,294.6 395.4,294 395.8,293.4 C396.3,292.8 396.8,292.3 397.4,291.9 C398,291.4 398.8,291 399.6,290.7 C400.4,290.4 401.2,290.2 402.2,290 C403.2,289.9 404.4,289.8 405.5,289.8 C406.6,289.8 407.8,289.9 408.8,290 C409.8,290.2 410.6,290.4 411.4,290.7 C412.2,291 413,291.4 413.6,291.9 C414.2,292.3 414.7,292.8 415.2,293.4 C415.6,294 415.9,294.6 416.2,295.3 C416.4,296 416.5,296.8 416.5,297.6Z" fill="#eabf45" stroke="#4b494b" stroke-width="1.45"/><path d="M523,308.6 C523,310.7 522.9,313.1 522.6,315 C522.3,316.9 521.9,318.5 521.3,320 C520.8,321.6 520.1,323 519.3,324.2 C518.5,325.4 517.6,326.4 516.6,327.3 C515.6,328.1 514.5,328.7 513.3,329.2 C512,329.6 510.5,329.8 509.1,329.8 C507.7,329.8 506.2,329.6 504.9,329.2 C503.7,328.7 502.6,328.1 501.6,327.3 C500.6,326.4 499.7,325.4 498.9,324.2 C498.1,323 497.4,321.6 496.9,320 C496.3,318.5 495.9,316.9 495.6,315 C495.3,313.1 495.2,310.7 495.2,308.6 C495.2,306.5 495.3,304.1 495.6,302.2 C495.9,300.3 496.3,298.7 496.9,297.2 C497.4,295.6 498.1,294.2 498.9,293 C499.7,291.8 500.6,290.8 501.6,289.9 C502.6,289.1 503.7,288.5 504.9,288 C506.2,287.6 507.7,287.4 509.1,287.4 C510.5,287.4 512,287.6 513.3,288 C514.5,288.5 515.6,289.1 516.6,289.9 C517.6,290.8 518.5,291.8 519.3,293 C520.1,294.2 520.8,295.6 521.3,297.2 C521.9,298.7 522.3,300.3 522.6,302.2 C522.9,304.1 523,306.5 523,308.6Z" fill="#a8a7a9" stroke="#4b494b" stroke-width="1.45"/><path d="M519.4,308.6 C519.4,310.3 519.3,312.1 519.1,313.6 C518.9,315 518.6,316.3 518.2,317.5 C517.8,318.7 517.3,319.8 516.7,320.7 C516.1,321.7 515.4,322.5 514.7,323.1 C513.9,323.8 513.1,324.3 512.2,324.6 C511.3,324.9 510.1,325.1 509.1,325.1 C508.1,325.1 506.9,324.9 506,324.6 C505.1,324.3 504.3,323.8 503.5,323.1 C502.8,322.5 502.1,321.7 501.5,320.7 C500.9,319.8 500.4,318.7 500,317.5 C499.6,316.3 499.3,315 499.1,313.6 C498.9,312.1 498.8,310.3 498.8,308.6 C498.8,306.9 498.9,305.1 499.1,303.6 C499.3,302.2 499.6,300.9 500,299.7 C500.4,298.5 500.9,297.4 501.5,296.5 C502.1,295.5 502.8,294.7 503.5,294.1 C504.3,293.4 505.1,292.9 506,292.6 C506.9,292.3 508.1,292.1 509.1,292.1 C510.1,292.1 511.3,292.3 512.2,292.6 C513.1,292.9 513.9,293.4 514.7,294.1 C515.4,294.7 516.1,295.5 516.7,296.5 C517.3,297.4 517.8,298.5 518.2,299.7 C518.6,300.9 518.9,302.2 519.1,303.6 C519.3,305.1 519.4,306.9 519.4,308.6Z" fill="#e67ba2" stroke="#4b494b" stroke-width="1.45"/><path d="M515.7,308.6 C515.7,309.7 515.6,310.9 515.5,311.8 C515.4,312.8 515.2,313.7 514.9,314.4 C514.6,315.2 514.3,315.9 514,316.5 C513.6,317.1 513.1,317.7 512.7,318.1 C512.2,318.5 511.7,318.9 511.1,319.1 C510.5,319.3 509.8,319.4 509.1,319.4 C508.4,319.4 507.7,319.3 507.1,319.1 C506.5,318.9 506,318.5 505.5,318.1 C505.1,317.7 504.6,317.1 504.2,316.5 C503.9,315.9 503.6,315.2 503.3,314.4 C503,313.7 502.8,312.8 502.7,311.8 C502.6,310.9 502.5,309.7 502.5,308.6 C502.5,307.5 502.6,306.3 502.7,305.4 C502.8,304.4 503,303.5 503.3,302.8 C503.6,302 503.9,301.3 504.2,300.7 C504.6,300.1 505.1,299.5 505.5,299.1 C506,298.7 506.5,298.3 507.1,298.1 C507.7,297.9 508.4,297.8 509.1,297.8 C509.8,297.8 510.5,297.9 511.1,298.1 C511.7,298.3 512.2,298.7 512.7,299.1 C513.1,299.5 513.6,300.1 514,300.7 C514.3,301.3 514.6,302 514.9,302.8 C515.2,303.5 515.4,304.4 515.5,305.4 C515.6,306.3 515.7,307.5 515.7,308.6Z" fill="#eabf45" stroke="#4b494b" stroke-width="1.45"/><path d="M293,204.9 L296,205.5 L298.9,206.1 L301.9,206.7 L304.8,207.2 L307.8,207.7 L310.7,208.2 L313.7,208.6 L316.7,209 L319.6,209.4 L322.6,209.8 L325.5,210.1 L328.5,210.5 L331.4,210.8 L334.4,211.1 L337.4,211.3 L340.3,211.6 L343.3,211.8 L346.2,212.1 L349.2,212.3 L352.1,212.5 L355.1,212.7 L358.1,212.8 L361,213 L364,213.1 L366.9,213.2 L369.9,213.4 L372.9,213.5 L375.8,213.5 L378.8,213.6 L381.7,213.7 L384.7,213.7 L387.6,213.8 L390.6,213.8 L393.6,213.8 L396.5,213.8 L399.5,213.8 L402.4,213.8 L405.4,213.7 L408.3,213.7 L411.3,213.6 L414.3,213.5 L417.2,213.4 L420.2,213.3 L423.1,213.2 L426.1,213.1 L429,213 L432,212.8 L435,212.6 L437.9,212.4 L440.9,212.2 L443.8,212 L446.8,211.8 L449.7,211.6 L452.7,211.3 L455.7,211 L458.6,210.7 L461.6,210.4 L464.5,210.1 L467.5,209.7 L470.5,209.4 L473.4,209 L476.4,208.5 L479.3,208.1 L482.3,207.6 L485.2,207.1 L488.2,206.6 L491.2,206 L494.1,205.4 L497.1,204.8 L500,204.1 L503,203.4 L505.9,202.6 L508.9,201.7 L511.9,200.8 L514.8,199.7 L517.8,198.6 L520.7,197.2 L523.7,195.6 L526.6,193.4 L529.6,188 L529.6,215.4 L526.6,220.8 L523.7,223 L520.7,224.6 L517.8,226 L514.8,227.1 L511.9,228.2 L508.9,229.1 L505.9,230 L503,230.8 L500,231.5 L497.1,232.2 L494.1,232.8 L491.2,233.4 L488.2,234 L485.2,234.5 L482.3,235 L479.3,235.5 L476.4,235.9 L473.4,236.4 L470.5,236.8 L467.5,237.1 L464.5,237.5 L461.6,237.8 L458.6,238.1 L455.7,238.4 L452.7,238.7 L449.7,239 L446.8,239.2 L443.8,239.4 L440.9,239.6 L437.9,239.8 L435,240 L432,240.2 L429,240.4 L426.1,240.5 L423.1,240.6 L420.2,240.7 L417.2,240.8 L414.3,240.9 L411.3,241 L408.3,241.1 L405.4,241.1 L402.4,241.2 L399.5,241.2 L396.5,241.2 L393.6,241.2 L390.6,241.2 L387.6,241.2 L384.7,241.1 L381.7,241.1 L378.8,241 L375.8,240.9 L372.9,240.9 L369.9,240.8 L366.9,240.6 L364,240.5 L361,240.4 L358.1,240.2 L355.1,240.1 L352.1,239.9 L349.2,239.7 L346.2,239.5 L343.3,239.2 L340.3,239 L337.4,238.7 L334.4,238.5 L331.4,238.2 L328.5,237.9 L325.5,237.5 L322.6,237.2 L319.6,236.8 L316.7,236.4 L313.7,236 L310.7,235.6 L307.8,235.1 L304.8,234.6 L301.9,234.1 L298.9,233.5 L296,232.9 L293,232.3Z" fill="#7e2959"/><path d="M293,207.5 L296,208.1 L298.9,208.7 L301.9,209.3 L304.8,209.8 L307.8,210.3 L310.7,210.8 L313.7,211.2 L316.7,211.6 L319.6,212 L322.6,212.4 L325.5,212.7 L328.5,213.1 L331.4,213.4 L334.4,213.7 L337.4,213.9 L340.3,214.2 L343.3,214.4 L346.2,214.7 L349.2,214.9 L352.1,215.1 L355.1,215.3 L358.1,215.4 L361,215.6 L364,215.7 L366.9,215.8 L369.9,216 L372.9,216.1 L375.8,216.1 L378.8,216.2 L381.7,216.3 L384.7,216.3 L387.6,216.4 L390.6,216.4 L393.6,216.4 L396.5,216.4 L399.5,216.4 L402.4,216.4 L405.4,216.3 L408.3,216.3 L411.3,216.2 L414.3,216.1 L417.2,216 L420.2,215.9 L423.1,215.8 L426.1,215.7 L429,215.6 L432,215.4 L435,215.2 L437.9,215 L440.9,214.8 L443.8,214.6 L446.8,214.4 L449.7,214.2 L452.7,213.9 L455.7,213.6 L458.6,213.3 L461.6,213 L464.5,212.7 L467.5,212.3 L470.5,212 L473.4,211.6 L476.4,211.1 L479.3,210.7 L482.3,210.2 L485.2,209.7 L488.2,209.2 L491.2,208.6 L494.1,208 L497.1,207.4 L500,206.7 L503,206 L505.9,205.2 L508.9,204.3 L511.9,203.4 L514.8,202.3 L517.8,201.2 L520.7,199.8 L523.7,198.2 L526.6,196 L529.6,190.6" fill="none" stroke="#eadde5" stroke-width="0.9" stroke-dasharray="2.6 1.4"/><path d="M293,229.7 L296,230.3 L298.9,230.9 L301.9,231.5 L304.8,232 L307.8,232.5 L310.7,233 L313.7,233.4 L316.7,233.8 L319.6,234.2 L322.6,234.6 L325.5,234.9 L328.5,235.3 L331.4,235.6 L334.4,235.9 L337.4,236.1 L340.3,236.4 L343.3,236.6 L346.2,236.9 L349.2,237.1 L352.1,237.3 L355.1,237.5 L358.1,237.6 L361,237.8 L364,237.9 L366.9,238 L369.9,238.2 L372.9,238.3 L375.8,238.3 L378.8,238.4 L381.7,238.5 L384.7,238.5 L387.6,238.6 L390.6,238.6 L393.6,238.6 L396.5,238.6 L399.5,238.6 L402.4,238.6 L405.4,238.5 L408.3,238.5 L411.3,238.4 L414.3,238.3 L417.2,238.2 L420.2,238.1 L423.1,238 L426.1,237.9 L429,237.8 L432,237.6 L435,237.4 L437.9,237.2 L440.9,237 L443.8,236.8 L446.8,236.6 L449.7,236.4 L452.7,236.1 L455.7,235.8 L458.6,235.5 L461.6,235.2 L464.5,234.9 L467.5,234.5 L470.5,234.2 L473.4,233.8 L476.4,233.3 L479.3,232.9 L482.3,232.4 L485.2,231.9 L488.2,231.4 L491.2,230.8 L494.1,230.2 L497.1,229.6 L500,228.9 L503,228.2 L505.9,227.4 L508.9,226.5 L511.9,225.6 L514.8,224.5 L517.8,223.4 L520.7,222 L523.7,220.4 L526.6,218.2 L529.6,212.8" fill="none" stroke="#eadde5" stroke-width="0.9" stroke-dasharray="2.6 1.4"/><g><path d="M420.7,165.1 C417.6,167.4 414,171.2 410.3,173 C397.8,170.6 386.2,164 372.6,164.7 C361.3,164.8 355.2,170.5 356.7,179.7 C359.3,190.9 368.5,205.4 364.9,217.4 C362.3,220.8 359.3,224.2 357.2,227.1 C359.3,230.2 362.3,233.9 364.9,237.5 C368.5,249.8 359.3,263.5 356.7,274.4 C355.2,283.4 361.3,289.8 372.6,290.7 C386.2,292 397.8,285.5 410.3,282.8 C414,284.5 417.6,288 420.7,290.1 C423.8,287.8 427.4,284 431,282.1 C443,283.9 453.6,289.6 465.6,287.3 C475.1,285.6 480.1,278.9 478.9,270 C476.8,259.2 469.1,246.1 472.1,233.6 C474.3,229.8 476.8,225.9 478.5,222.7 C476.8,219.9 474.3,216.7 472.1,213.5 C469.1,201.8 476.8,186.6 478.9,175.2 C480.1,166 475.1,160.6 465.6,161.3 C453.6,161.6 443,169 431,172.2 C427.4,170.7 423.8,167.2 420.7,165.1 Z" fill="none" stroke="#f3edf1" stroke-width="2.4"/><path d="M420.7,165.1 C417.6,167.4 414,171.2 410.3,173 C397.8,170.6 386.2,164 372.6,164.7 C361.3,164.8 355.2,170.5 356.7,179.7 C359.3,190.9 368.5,205.4 364.9,217.4 C362.3,220.8 359.3,224.2 357.2,227.1 C359.3,230.2 362.3,233.9 364.9,237.5 C368.5,249.8 359.3,263.5 356.7,274.4 C355.2,283.4 361.3,289.8 372.6,290.7 C386.2,292 397.8,285.5 410.3,282.8 C414,284.5 417.6,288 420.7,290.1 C423.8,287.8 427.4,284 431,282.1 C443,283.9 453.6,289.6 465.6,287.3 C475.1,285.6 480.1,278.9 478.9,270 C476.8,259.2 469.1,246.1 472.1,233.6 C474.3,229.8 476.8,225.9 478.5,222.7 C476.8,219.9 474.3,216.7 472.1,213.5 C469.1,201.8 476.8,186.6 478.9,175.2 C480.1,166 475.1,160.6 465.6,161.3 C453.6,161.6 443,169 431,172.2 C427.4,170.7 423.8,167.2 420.7,165.1 Z" fill="#ebe8ea"/><g clip-path="url(#clipL)"><path d="M420.7,165.1 C417.6,167.4 414,171.2 410.3,173 C397.8,170.6 386.2,164 372.6,164.7 C361.3,164.8 355.2,170.5 356.7,179.7 C359.3,190.9 368.5,205.4 364.9,217.4 C362.3,220.8 359.3,224.2 357.2,227.1 C359.3,230.2 362.3,233.9 364.9,237.5 C368.5,249.8 359.3,263.5 356.7,274.4 C355.2,283.4 361.3,289.8 372.6,290.7 C386.2,292 397.8,285.5 410.3,282.8 C414,284.5 417.6,288 420.7,290.1 C423.8,287.8 427.4,284 431,282.1 C443,283.9 453.6,289.6 465.6,287.3 C475.1,285.6 480.1,278.9 478.9,270 C476.8,259.2 469.1,246.1 472.1,233.6 C474.3,229.8 476.8,225.9 478.5,222.7 C476.8,219.9 474.3,216.7 472.1,213.5 C469.1,201.8 476.8,186.6 478.9,175.2 C480.1,166 475.1,160.6 465.6,161.3 C453.6,161.6 443,169 431,172.2 C427.4,170.7 423.8,167.2 420.7,165.1 Z" fill="none" stroke="#8c2b66" stroke-width="12.4"/><path d="M420.7,165.1 C417.6,167.4 414,171.2 410.3,173 C397.8,170.6 386.2,164 372.6,164.7 C361.3,164.8 355.2,170.5 356.7,179.7 C359.3,190.9 368.5,205.4 364.9,217.4 C362.3,220.8 359.3,224.2 357.2,227.1 C359.3,230.2 362.3,233.9 364.9,237.5 C368.5,249.8 359.3,263.5 356.7,274.4 C355.2,283.4 361.3,289.8 372.6,290.7 C386.2,292 397.8,285.5 410.3,282.8 C414,284.5 417.6,288 420.7,290.1 C423.8,287.8 427.4,284 431,282.1 C443,283.9 453.6,289.6 465.6,287.3 C475.1,285.6 480.1,278.9 478.9,270 C476.8,259.2 469.1,246.1 472.1,233.6 C474.3,229.8 476.8,225.9 478.5,222.7 C476.8,219.9 474.3,216.7 472.1,213.5 C469.1,201.8 476.8,186.6 478.9,175.2 C480.1,166 475.1,160.6 465.6,161.3 C453.6,161.6 443,169 431,172.2 C427.4,170.7 423.8,167.2 420.7,165.1 Z" fill="none" stroke="#f3edf1" stroke-width="10.4"/><path d="M420.7,165.1 C417.6,167.4 414,171.2 410.3,173 C397.8,170.6 386.2,164 372.6,164.7 C361.3,164.8 355.2,170.5 356.7,179.7 C359.3,190.9 368.5,205.4 364.9,217.4 C362.3,220.8 359.3,224.2 357.2,227.1 C359.3,230.2 362.3,233.9 364.9,237.5 C368.5,249.8 359.3,263.5 356.7,274.4 C355.2,283.4 361.3,289.8 372.6,290.7 C386.2,292 397.8,285.5 410.3,282.8 C414,284.5 417.6,288 420.7,290.1 C423.8,287.8 427.4,284 431,282.1 C443,283.9 453.6,289.6 465.6,287.3 C475.1,285.6 480.1,278.9 478.9,270 C476.8,259.2 469.1,246.1 472.1,233.6 C474.3,229.8 476.8,225.9 478.5,222.7 C476.8,219.9 474.3,216.7 472.1,213.5 C469.1,201.8 476.8,186.6 478.9,175.2 C480.1,166 475.1,160.6 465.6,161.3 C453.6,161.6 443,169 431,172.2 C427.4,170.7 423.8,167.2 420.7,165.1 Z" fill="none" stroke="#8c2b66" stroke-width="8.4"/></g></g><text x="0" y="0" transform="translate(381.6,264.4) rotate(-2.6)" font-family="Liberation Serif" font-size="21.0" fill="#8c2b66">katherine</text><g fill="none" stroke="#8c2b66" stroke-linecap="round"><path d="M396,211.3 C391,210.5 390.5,205 395,200.5 C400,195.5 410,190 418.5,188.6 C422.5,188 424,190.5 423.2,194" stroke-width="1.3"/><path d="M423.2,194 C420,205 413,219 403.7,230.5" stroke-width="1.9"/><path d="M447.6,196.2 C437,199.5 425,207 416.8,215.1" stroke-width="1.25"/><path d="M416.8,215.1 C421,222 424.5,232 430,239.5 C434,244.5 442,246 446.5,239.3" stroke-width="1.6"/></g></g><g transform="translate(1275.8,0) scale(-1,1)"><path d="M259.6,63.3 L263,53.7 L266.4,49.9 L269.7,47.4 L273.1,45.5 L276.5,44 L279.9,43 L283.2,42.3 L286.6,41.6 L290,41 L293.4,40.5 L296.7,40 L300.1,39.6 L303.5,39.1 L306.9,38.7 L310.2,38.4 L313.6,38 L317,37.7 L320.4,37.4 L323.7,37.1 L327.1,36.8 L330.5,36.6 L333.9,36.3 L337.2,36.1 L340.6,35.9 L344,35.7 L347.4,35.5 L350.7,35.4 L354.1,35.2 L357.5,35.1 L360.9,35 L364.2,34.9 L367.6,34.8 L371,34.7 L374.4,34.6 L377.7,34.5 L381.1,34.5 L384.5,34.5 L387.9,34.4 L391.2,34.4 L394.6,34.4 L398,34.4 L401.4,34.4 L404.7,34.4 L408.1,34.5 L411.5,34.5 L414.9,34.6 L418.2,34.7 L421.6,34.8 L425,34.9 L428.4,35 L431.7,35.1 L435.1,35.2 L438.5,35.4 L441.9,35.5 L445.2,35.7 L448.6,35.9 L452,36.1 L455.4,36.3 L458.7,36.5 L462.1,36.8 L465.5,37.1 L468.9,37.3 L472.2,37.6 L475.6,38 L479,38.3 L482.4,38.7 L485.7,39.1 L489.1,39.5 L492.5,40 L495.9,40.5 L499.2,41 L502.6,41.6 L506,42.2 L509.4,42.9 L512.7,43.9 L516.1,45.3 L519.5,47.2 L522.9,49.8 L526.2,53.5 L529.6,63.3 L529.6,336.5 L526.2,345.4 L522.9,349 L519.5,351.7 L516.1,353.9 L512.7,355.9 L509.4,357.6 L506,359.1 L502.6,360.5 L499.2,361.8 L495.9,363 L492.5,364.1 L489.1,365.1 L485.7,366 L482.4,366.9 L479,367.7 L475.6,368.5 L472.2,369.2 L468.9,369.9 L465.5,370.6 L462.1,371.2 L458.7,371.7 L455.4,372.2 L452,372.7 L448.6,373.2 L445.2,373.6 L441.9,374 L438.5,374.3 L435.1,374.7 L431.7,375 L428.4,375.2 L425,375.5 L421.6,375.7 L418.2,375.9 L414.9,376.1 L411.5,376.2 L408.1,376.3 L404.7,376.4 L401.4,376.5 L398,376.5 L394.6,376.5 L391.2,376.5 L387.9,376.4 L384.5,376.4 L381.1,376.3 L377.7,376.2 L374.4,376 L371,375.9 L367.6,375.7 L364.2,375.5 L360.9,375.2 L357.5,374.9 L354.1,374.6 L350.7,374.3 L347.4,373.9 L344,373.5 L340.6,373.1 L337.2,372.7 L333.9,372.2 L330.5,371.7 L327.1,371.1 L323.7,370.5 L320.4,369.8 L317,369.2 L313.6,368.4 L310.2,367.6 L306.9,366.8 L303.5,365.9 L300.1,365 L296.7,363.9 L293.4,362.8 L290,361.6 L286.6,360.4 L283.2,358.9 L279.9,357.4 L276.5,355.7 L273.1,353.7 L269.7,351.4 L266.4,348.6 L263,344.9 L259.6,336.5Z" fill="url(#bgrad)"/><path d="M259.6,313.7 L263,319.7 L266.4,322.4 L269.7,324.4 L273.1,326 L276.5,327.4 L279.9,328.7 L283.2,329.8 L286.6,330.8 L290,331.7 L293.4,332.6 L296.7,333.4 L300.1,334.1 L303.5,334.8 L306.9,335.4 L310.2,336 L313.6,336.6 L317,337.1 L320.4,337.6 L323.7,338.1 L327.1,338.5 L330.5,338.9 L333.9,339.3 L337.2,339.7 L340.6,340 L344,340.3 L347.4,340.6 L350.7,340.8 L354.1,341.1 L357.5,341.3 L360.9,341.5 L364.2,341.7 L367.6,341.8 L371,341.9 L374.4,342.1 L377.7,342.2 L381.1,342.3 L384.5,342.3 L387.9,342.4 L391.2,342.4 L394.6,342.4 L398,342.4 L401.4,342.4 L404.7,342.3 L408.1,342.3 L411.5,342.2 L414.9,342.1 L418.2,342 L421.6,341.8 L425,341.7 L428.4,341.5 L431.7,341.3 L435.1,341.1 L438.5,340.9 L441.9,340.6 L445.2,340.3 L448.6,340 L452,339.7 L455.4,339.3 L458.7,339 L462.1,338.6 L465.5,338.1 L468.9,337.7 L472.2,337.2 L475.6,336.7 L479,336.1 L482.4,335.5 L485.7,334.9 L489.1,334.2 L492.5,333.5 L495.9,332.7 L499.2,331.8 L502.6,330.9 L506,329.9 L509.4,328.8 L512.7,327.6 L516.1,326.2 L519.5,324.6 L522.9,322.7 L526.2,320.1 L529.6,313.7 L529.6,336.5 L526.2,345.4 L522.9,349 L519.5,351.7 L516.1,353.9 L512.7,355.9 L509.4,357.6 L506,359.1 L502.6,360.5 L499.2,361.8 L495.9,363 L492.5,364.1 L489.1,365.1 L485.7,366 L482.4,366.9 L479,367.7 L475.6,368.5 L472.2,369.2 L468.9,369.9 L465.5,370.6 L462.1,371.2 L458.7,371.7 L455.4,372.2 L452,372.7 L448.6,373.2 L445.2,373.6 L441.9,374 L438.5,374.3 L435.1,374.7 L431.7,375 L428.4,375.2 L425,375.5 L421.6,375.7 L418.2,375.9 L414.9,376.1 L411.5,376.2 L408.1,376.3 L404.7,376.4 L401.4,376.5 L398,376.5 L394.6,376.5 L391.2,376.5 L387.9,376.4 L384.5,376.4 L381.1,376.3 L377.7,376.2 L374.4,376 L371,375.9 L367.6,375.7 L364.2,375.5 L360.9,375.2 L357.5,374.9 L354.1,374.6 L350.7,374.3 L347.4,373.9 L344,373.5 L340.6,373.1 L337.2,372.7 L333.9,372.2 L330.5,371.7 L327.1,371.1 L323.7,370.5 L320.4,369.8 L317,369.2 L313.6,368.4 L310.2,367.6 L306.9,366.8 L303.5,365.9 L300.1,365 L296.7,363.9 L293.4,362.8 L290,361.6 L286.6,360.4 L283.2,358.9 L279.9,357.4 L276.5,355.7 L273.1,353.7 L269.7,351.4 L266.4,348.6 L263,344.9 L259.6,336.5Z" fill="url(#botgrad)"/><path d="M288,105.8 L293,105.8 L293,333 L288,332 Z" fill="url(#stripgrad)"/><path d="M259.6,63.3 L263,53.7 L266.4,49.9 L269.7,47.4 L273.1,45.5 L276.5,44 L279.9,43 L283.2,42.3 L286.6,41.6 L290,41 L293.4,40.5 L296.7,40 L300.1,39.6 L303.5,39.1 L306.9,38.7 L310.2,38.4 L313.6,38 L317,37.7 L320.4,37.4 L323.7,37.1 L327.1,36.8 L330.5,36.6 L333.9,36.3 L337.2,36.1 L340.6,35.9 L344,35.7 L347.4,35.5 L350.7,35.4 L354.1,35.2 L357.5,35.1 L360.9,35 L364.2,34.9 L367.6,34.8 L371,34.7 L374.4,34.6 L377.7,34.5 L381.1,34.5 L384.5,34.5 L387.9,34.4 L391.2,34.4 L394.6,34.4 L398,34.4 L401.4,34.4 L404.7,34.4 L408.1,34.5 L411.5,34.5 L414.9,34.6 L418.2,34.7 L421.6,34.8 L425,34.9 L428.4,35 L431.7,35.1 L435.1,35.2 L438.5,35.4 L441.9,35.5 L445.2,35.7 L448.6,35.9 L452,36.1 L455.4,36.3 L458.7,36.5 L462.1,36.8 L465.5,37.1 L468.9,37.3 L472.2,37.6 L475.6,38 L479,38.3 L482.4,38.7 L485.7,39.1 L489.1,39.5 L492.5,40 L495.9,40.5 L499.2,41 L502.6,41.6 L506,42.2 L509.4,42.9 L512.7,43.9 L516.1,45.3 L519.5,47.2 L522.9,49.8 L526.2,53.5 L529.6,63.3 L529.6,59 L526.2,63.7 L522.9,65.6 L519.5,67 L516.1,68.2 L512.7,69.2 L509.4,70.1 L506,70.9 L502.6,71.6 L499.2,72.3 L495.9,72.9 L492.5,73.5 L489.1,74 L485.7,74.5 L482.4,75 L479,75.4 L475.6,75.8 L472.2,76.2 L468.9,76.5 L465.5,76.9 L462.1,77.2 L458.7,77.5 L455.4,77.8 L452,78 L448.6,78.3 L445.2,78.5 L441.9,78.7 L438.5,78.9 L435.1,79 L431.7,79.2 L428.4,79.3 L425,79.5 L421.6,79.6 L418.2,79.7 L414.9,79.8 L411.5,79.8 L408.1,79.9 L404.7,79.9 L401.4,80 L398,80 L394.6,80 L391.2,80 L387.9,80 L384.5,79.9 L381.1,79.9 L377.7,79.8 L374.4,79.8 L371,79.7 L367.6,79.6 L364.2,79.5 L360.9,79.3 L357.5,79.2 L354.1,79 L350.7,78.8 L347.4,78.7 L344,78.5 L340.6,78.2 L337.2,78 L333.9,77.7 L330.5,77.5 L327.1,77.2 L323.7,76.8 L320.4,76.5 L317,76.1 L313.6,75.8 L310.2,75.4 L306.9,74.9 L303.5,74.4 L300.1,73.9 L296.7,73.4 L293.4,72.8 L290,72.2 L286.6,71.5 L283.2,70.8 L279.9,70 L276.5,69.1 L273.1,68 L269.7,66.8 L266.4,65.4 L263,63.4 L259.6,59Z" fill="url(#capgrad)"/><path d="M265.1,57.7 A129.7,13.8 0 0 1 524.5,57.7 A129.7,13.8 0 0 1 265.1,57.7Z" fill="#f0f0f1" filter="url(#soft)"/><path d="M259.6,63.3 L263,53.7 L266.4,49.9 L269.7,47.4 L273.1,45.5 L276.5,44 L279.9,43 L283.2,42.3 L286.6,41.6 L290,41 L293.4,40.5 L296.7,40 L300.1,39.6 L303.5,39.1 L306.9,38.7 L310.2,38.4 L313.6,38 L317,37.7 L320.4,37.4 L323.7,37.1 L327.1,36.8 L330.5,36.6 L333.9,36.3 L337.2,36.1 L340.6,35.9 L344,35.7 L347.4,35.5 L350.7,35.4 L354.1,35.2 L357.5,35.1 L360.9,35 L364.2,34.9 L367.6,34.8 L371,34.7 L374.4,34.6 L377.7,34.5 L381.1,34.5 L384.5,34.5 L387.9,34.4 L391.2,34.4 L394.6,34.4 L398,34.4 L401.4,34.4 L404.7,34.4 L408.1,34.5 L411.5,34.5 L414.9,34.6 L418.2,34.7 L421.6,34.8 L425,34.9 L428.4,35 L431.7,35.1 L435.1,35.2 L438.5,35.4 L441.9,35.5 L445.2,35.7 L448.6,35.9 L452,36.1 L455.4,36.3 L458.7,36.5 L462.1,36.8 L465.5,37.1 L468.9,37.3 L472.2,37.6 L475.6,38 L479,38.3 L482.4,38.7 L485.7,39.1 L489.1,39.5 L492.5,40 L495.9,40.5 L499.2,41 L502.6,41.6 L506,42.2 L509.4,42.9 L512.7,43.9 L516.1,45.3 L519.5,47.2 L522.9,49.8 L526.2,53.5 L529.6,63.3" fill="none" stroke="#cdc8cb" stroke-width="0.9"/><path d="M259.6,336.5 L263,344.9 L266.4,348.6 L269.7,351.4 L273.1,353.7 L276.5,355.7 L279.9,357.4 L283.2,358.9 L286.6,360.4 L290,361.6 L293.4,362.8 L296.7,363.9 L300.1,365 L303.5,365.9 L306.9,366.8 L310.2,367.6 L313.6,368.4 L317,369.2 L320.4,369.8 L323.7,370.5 L327.1,371.1 L330.5,371.7 L333.9,372.2 L337.2,372.7 L340.6,373.1 L344,373.5 L347.4,373.9 L350.7,374.3 L354.1,374.6 L357.5,374.9 L360.9,375.2 L364.2,375.5 L367.6,375.7 L371,375.9 L374.4,376 L377.7,376.2 L381.1,376.3 L384.5,376.4 L387.9,376.4 L391.2,376.5 L394.6,376.5 L398,376.5 L401.4,376.5 L404.7,376.4 L408.1,376.3 L411.5,376.2 L414.9,376.1 L418.2,375.9 L421.6,375.7 L425,375.5 L428.4,375.2 L431.7,375 L435.1,374.7 L438.5,374.3 L441.9,374 L445.2,373.6 L448.6,373.2 L452,372.7 L455.4,372.2 L458.7,371.7 L462.1,371.2 L465.5,370.6 L468.9,369.9 L472.2,369.2 L475.6,368.5 L479,367.7 L482.4,366.9 L485.7,366 L489.1,365.1 L492.5,364.1 L495.9,363 L499.2,361.8 L502.6,360.5 L506,359.1 L509.4,357.6 L512.7,355.9 L516.1,353.9 L519.5,351.7 L522.9,349 L526.2,345.4 L529.6,336.5" fill="none" stroke="#a69ea2" stroke-width="1.0"/><path d="M259.8,62 L259.8,336" stroke="#d6d2d5" stroke-width="1"/><path d="M529.4,62 L529.4,336" stroke="#d6d2d5" stroke-width="1"/></g><g clip-path="url(#clipB)"><path d="M746.2,93.5 L749.2,97.3 L752.1,98.8 L755.1,100 L758,100.9 L761,101.8 L763.9,102.5 L766.9,103.2 L769.9,103.8 L772.8,104.4 L775.8,104.9 L778.7,105.4 L781.7,105.8 L784.6,106.2 L787.6,106.6 L790.6,107 L793.5,107.4 L796.5,107.7 L799.4,108 L802.4,108.3 L805.4,108.6 L808.3,108.9 L811.3,109.1 L814.2,109.3 L817.2,109.6 L820.1,109.8 L823.1,110 L826.1,110.2 L829,110.3 L832,110.5 L834.9,110.6 L837.9,110.8 L840.8,110.9 L843.8,111 L846.8,111.1 L849.7,111.3 L852.7,111.3 L855.6,111.4 L858.6,111.5 L861.5,111.6 L864.5,111.6 L867.5,111.7 L870.4,111.7 L873.4,111.7 L876.3,111.7 L879.3,111.7 L882.2,111.7 L885.2,111.7 L888.2,111.7 L891.1,111.7 L894.1,111.7 L897,111.6 L900,111.6 L902.9,111.5 L905.9,111.4 L908.9,111.4 L911.8,111.3 L914.8,111.2 L917.7,111.1 L920.7,110.9 L923.6,110.8 L926.6,110.7 L929.6,110.5 L932.5,110.4 L935.5,110.2 L938.4,110 L941.4,109.8 L944.4,109.6 L947.3,109.4 L950.3,109.1 L953.2,108.9 L956.2,108.6 L959.1,108.4 L962.1,108.1 L965.1,107.8 L968,107.4 L971,107.1 L973.9,106.7 L976.9,106.3 L979.8,105.9 L982.8,105.4 L982.8,332.5 L979.8,333.2 L976.9,333.9 L973.9,334.5 L971,335.1 L968,335.6 L965.1,336.1 L962.1,336.6 L959.1,337.1 L956.2,337.5 L953.2,337.9 L950.3,338.3 L947.3,338.7 L944.4,339 L941.4,339.4 L938.4,339.7 L935.5,340 L932.5,340.2 L929.6,340.5 L926.6,340.7 L923.6,340.9 L920.7,341.1 L917.7,341.3 L914.8,341.5 L911.8,341.6 L908.9,341.8 L905.9,341.9 L902.9,342 L900,342.1 L897,342.2 L894.1,342.3 L891.1,342.3 L888.2,342.4 L885.2,342.4 L882.2,342.4 L879.3,342.4 L876.3,342.4 L873.4,342.4 L870.4,342.3 L867.5,342.3 L864.5,342.2 L861.5,342.1 L858.6,342 L855.6,341.9 L852.7,341.8 L849.7,341.6 L846.8,341.5 L843.8,341.3 L840.8,341.1 L837.9,340.9 L834.9,340.7 L832,340.4 L829,340.2 L826.1,339.9 L823.1,339.6 L820.1,339.3 L817.2,339 L814.2,338.6 L811.3,338.3 L808.3,337.9 L805.4,337.5 L802.4,337 L799.4,336.5 L796.5,336.1 L793.5,335.5 L790.6,335 L787.6,334.4 L784.6,333.8 L781.7,333.1 L778.7,332.4 L775.8,331.6 L772.8,330.8 L769.9,329.9 L766.9,329 L763.9,327.9 L761,326.8 L758,325.5 L755.1,323.9 L752.1,322.1 L749.2,319.7 L746.2,313.7Z" fill="#e6d18f"/><path d="M755,124 C763,125 771,126 780,127" fill="none" stroke="#9d9ca1" stroke-width="1.2" stroke-linecap="round"/><path d="M755,130 C763,130 771,131 780,132" fill="none" stroke="#9d9ca1" stroke-width="1.2" stroke-linecap="round"/><path d="M755,136 C763,135 771,136 780,137" fill="none" stroke="#9d9ca1" stroke-width="1.0" stroke-linecap="round"/><path d="M826,118 C830,115 834,113 838,111" fill="none" stroke="#9d9ca1" stroke-width="1.2" stroke-linecap="round"/><path d="M826,128 C834,122 842,116 850,113" fill="none" stroke="#9d9ca1" stroke-width="1.2" stroke-linecap="round"/><path d="M827,135 C838,128 850,119 860,112" fill="none" stroke="#9d9ca1" stroke-width="1.0" stroke-linecap="round"/><path d="M760,150 C762,162 770,168 778,167 C786,166 790,160 792,156" fill="none" stroke="#4a4849" stroke-width="0.8" stroke-linecap="round"/><path d="M778,178 C776,168 790,164 798,172 C802,182 794,190 784,188" fill="none" stroke="#7f7e83" stroke-width="0.7" stroke-linecap="round"/><path d="M784,196 C780,190 792,184 802,190 C808,198 802,208 794,206" fill="none" stroke="#c9b98a" stroke-width="0.8" stroke-linecap="round"/><path d="M750,155 C760,175 772,195 784,210" fill="none" stroke="#4a4849" stroke-width="1.1" stroke-linecap="round"/><path d="M755,158 C765,178 775,196 788,212" fill="none" stroke="#4a4849" stroke-width="0.8" stroke-linecap="round"/><path d="M764,108 C760,118 757,126 756,132" fill="none" stroke="#4a4849" stroke-width="0.9" stroke-linecap="round"/><path d="M838,212 C842,196 852,186 864,183" fill="none" stroke="#2b2a2c" stroke-width="1.0" stroke-linecap="round"/><path d="M830,212 C836,190 850,172 864,163" fill="none" stroke="#9d9ca1" stroke-width="1.1" stroke-linecap="round"/><path d="M848,186 C850,182 852,179 855,177" fill="none" stroke="#2b2a2c" stroke-width="2.2" stroke-linecap="round"/><path d="M880,112 C868,116 868,130 880,134 C892,136 896,124 890,114" fill="none" stroke="#9d9ca1" stroke-width="0.9" stroke-linecap="round"/><path d="M911,112 C910,126 907,140 903,153" fill="none" stroke="#2b2a2c" stroke-width="1.1" stroke-linecap="round"/><path d="M864,130 C876,138 890,145 905,145 C918,144 928,138 935,135" fill="none" stroke="#9d9ca1" stroke-width="1.4" stroke-linecap="round"/><path d="M918,158 C926,142 934,132 945,127 C958,122 972,121 983,123" fill="none" stroke="#2b2a2c" stroke-width="1.3" stroke-linecap="round"/><path d="M928,182 C940,176 944,160 950,150 C958,136 968,122 980,112" fill="none" stroke="#9d9ca1" stroke-width="2.6" stroke-linecap="round"/><path d="M945,210 C950,180 960,150 975,120" fill="none" stroke="#9d9ca1" stroke-width="1.0" stroke-linecap="round"/><path d="M950,210 C955,182 965,152 979,122" fill="none" stroke="#9d9ca1" stroke-width="1.0" stroke-linecap="round"/><path d="M955,210 C960,185 970,160 983,147" fill="none" stroke="#7f7e83" stroke-width="0.8" stroke-linecap="round"/><path d="M972,107 C975,112 978,118 982,123" fill="none" stroke="#2b2a2c" stroke-width="1.0" stroke-linecap="round"/><path d="M966,106 C970,112 974,118 980,124" fill="none" stroke="#4a4849" stroke-width="1.0" stroke-linecap="round"/><path d="M903,198 C906,204 909,210 913,215" fill="none" stroke="#2b2a2c" stroke-width="1.0" stroke-linecap="round"/><path d="M907,198 C910,204 913,210 917,215" fill="none" stroke="#4a4849" stroke-width="0.8" stroke-linecap="round"/><path d="M795,237 C794,246 792,254 789,262" fill="none" stroke="#4a4849" stroke-width="1.1" stroke-linecap="round"/><path d="M790,237 C789,246 787,254 785,262" fill="none" stroke="#9d9ca1" stroke-width="0.8" stroke-linecap="round"/><path d="M845,240 C846,258 844,270 838,280 C832,290 822,294 810,293 C806,292 803,291 802,290" fill="none" stroke="#2b2a2c" stroke-width="1.3" stroke-linecap="round"/><path d="M841,240 C842,256 840,268 834,277 C828,286 818,290 806,288" fill="none" stroke="#4a4849" stroke-width="0.8" stroke-linecap="round"/><path d="M798,305 C806,316 813,328 817,342" fill="none" stroke="#4a4849" stroke-width="0.9" stroke-linecap="round"/><path d="M748,250 L748,320" fill="none" stroke="#4a4849" stroke-width="0.8" stroke-linecap="round"/><path d="M864,250 C876,253 886,256 895,255 C908,253 918,246 925,240" fill="none" stroke="#9d9ca1" stroke-width="1.3" stroke-linecap="round"/><path d="M884,274 C892,262 902,256 912,256 C926,256 936,262 944,272 C954,286 962,300 970,315" fill="none" stroke="#2b2a2c" stroke-width="1.3" stroke-linecap="round"/><path d="M930,268 C944,268 952,258 952,238" fill="none" stroke="#9d9ca1" stroke-width="2.6" stroke-linecap="round"/><path d="M940,240 C954,242 970,238 983,232" fill="none" stroke="#2b2a2c" stroke-width="1.0" stroke-linecap="round"/><path d="M886,299 C882,290 890,280 900,282 C910,286 912,298 904,304" fill="none" stroke="#4a4849" stroke-width="0.8" stroke-linecap="round"/><path d="M905,290 C930,290 956,293 980,297" fill="none" stroke="#9d9ca1" stroke-width="1.1" stroke-linecap="round"/><path d="M905,299 C930,298 956,300 978,302" fill="none" stroke="#9d9ca1" stroke-width="1.3" stroke-linecap="round"/><path d="M900,307 C924,306 948,307 968,308" fill="none" stroke="#9d9ca1" stroke-width="1.0" stroke-linecap="round"/><path d="M866,343 C876,334 888,326 900,320" fill="none" stroke="#9d9ca1" stroke-width="1.0" stroke-linecap="round"/><path d="M890,345 C900,334 912,330 920,330 C932,332 940,336 945,340" fill="none" stroke="#9d9ca1" stroke-width="1.0" stroke-linecap="round"/><path d="M950,340 C956,330 962,322 970,315" fill="none" stroke="#9d9ca1" stroke-width="0.9" stroke-linecap="round"/><path d="M856,327 C859,324 862,321 864,318" fill="none" stroke="#9d9ca1" stroke-width="2.2" stroke-linecap="round"/><path d="M860,320 C870,314 878,312 888,312" fill="none" stroke="#9d9ca1" stroke-width="1.0" stroke-linecap="round"/><path d="M752,284 C750,270 752,258 762,253 C756,260 755,272 752,284Z" fill="#3a393b"/><path d="M800,285 C812,280 818,270 823,266 C826,262 828,261 831,260 C826,264 822,272 816,278 C810,284 806,285 800,285Z" fill="#3a393b"/><path d="M755.3,132 C755.3,134.2 755.2,136.6 755,138.6 C754.8,140.6 754.5,142.3 754.2,143.9 C753.8,145.5 753.4,146.9 752.8,148.2 C752.3,149.4 751.7,150.5 751,151.4 C750.3,152.2 749.6,152.9 748.8,153.3 C748,153.8 746.9,154 746,154 C745.1,154 744,153.8 743.2,153.3 C742.4,152.9 741.7,152.2 741,151.4 C740.3,150.5 739.7,149.4 739.2,148.2 C738.6,146.9 738.2,145.5 737.8,143.9 C737.5,142.3 737.2,140.6 737,138.6 C736.8,136.6 736.7,134.2 736.7,132 C736.7,129.8 736.8,127.4 737,125.4 C737.2,123.4 737.5,121.7 737.8,120.1 C738.2,118.5 738.6,117.1 739.2,115.8 C739.7,114.6 740.3,113.5 741,112.6 C741.7,111.8 742.4,111.1 743.2,110.7 C744,110.2 745.1,110 746,110 C746.9,110 748,110.2 748.8,110.7 C749.6,111.1 750.3,111.8 751,112.6 C751.7,113.5 752.3,114.6 752.8,115.8 C753.4,117.1 753.8,118.5 754.2,120.1 C754.5,121.7 754.8,123.4 755,125.4 C755.2,127.4 755.3,129.8 755.3,132Z" fill="#a8a7a9" stroke="#4b494b" stroke-width="1.45"/><path d="M753,132 C753,133.7 752.9,135.5 752.8,137 C752.6,138.4 752.4,139.7 752.2,140.9 C751.9,142.1 751.5,143.2 751.1,144.1 C750.7,145.1 750.3,145.9 749.8,146.5 C749.3,147.2 748.7,147.7 748.1,148 C747.5,148.3 746.7,148.5 746,148.5 C745.3,148.5 744.5,148.3 743.9,148 C743.3,147.7 742.7,147.2 742.2,146.5 C741.7,145.9 741.3,145.1 740.9,144.1 C740.5,143.2 740.1,142.1 739.8,140.9 C739.6,139.7 739.4,138.4 739.2,137 C739.1,135.5 739,133.7 739,132 C739,130.3 739.1,128.5 739.2,127 C739.4,125.6 739.6,124.3 739.8,123.1 C740.1,121.9 740.5,120.8 740.9,119.9 C741.3,118.9 741.7,118.1 742.2,117.5 C742.7,116.8 743.3,116.3 743.9,116 C744.5,115.7 745.3,115.5 746,115.5 C746.7,115.5 747.5,115.7 748.1,116 C748.7,116.3 749.3,116.8 749.8,117.5 C750.3,118.1 750.7,118.9 751.1,119.9 C751.5,120.8 751.9,121.9 752.2,123.1 C752.4,124.3 752.6,125.6 752.8,127 C752.9,128.5 753,130.3 753,132Z" fill="#de3f4a" stroke="#4b494b" stroke-width="1.45"/><path d="M750.6,132 C750.6,133.1 750.6,134.3 750.5,135.2 C750.4,136.2 750.2,137.1 750,137.8 C749.9,138.6 749.6,139.3 749.4,139.9 C749.1,140.5 748.8,141.1 748.5,141.5 C748.2,141.9 747.8,142.3 747.4,142.5 C747,142.7 746.5,142.8 746,142.8 C745.5,142.8 745,142.7 744.6,142.5 C744.2,142.3 743.8,141.9 743.5,141.5 C743.2,141.1 742.9,140.5 742.6,139.9 C742.4,139.3 742.1,138.6 742,137.8 C741.8,137.1 741.6,136.2 741.5,135.2 C741.4,134.3 741.4,133.1 741.4,132 C741.4,130.9 741.4,129.7 741.5,128.8 C741.6,127.8 741.8,126.9 742,126.2 C742.1,125.4 742.4,124.7 742.6,124.1 C742.9,123.5 743.2,122.9 743.5,122.5 C743.8,122.1 744.2,121.7 744.6,121.5 C745,121.3 745.5,121.2 746,121.2 C746.5,121.2 747,121.3 747.4,121.5 C747.8,121.7 748.2,122.1 748.5,122.5 C748.8,122.9 749.1,123.5 749.4,124.1 C749.6,124.7 749.9,125.4 750,126.2 C750.2,126.9 750.4,127.8 750.5,128.8 C750.6,129.7 750.6,130.9 750.6,132Z" fill="#ece12f" stroke="#4b494b" stroke-width="1.45"/><path d="M825.9,132.9 C825.9,135.2 825.7,137.8 825.2,139.8 C824.7,141.9 824,143.7 823.2,145.4 C822.3,147 821.1,148.6 819.8,149.9 C818.5,151.2 817,152.3 815.4,153.2 C813.7,154.1 811.9,154.8 809.9,155.3 C807.8,155.8 805.3,156 803,156 C800.7,156 798.2,155.8 796.1,155.3 C794.1,154.8 792.3,154.1 790.6,153.2 C789,152.3 787.5,151.2 786.2,149.9 C784.9,148.6 783.7,147 782.8,145.4 C782,143.7 781.3,141.9 780.8,139.8 C780.3,137.8 780.1,135.2 780.1,132.9 C780.1,130.6 780.3,128 780.8,126 C781.3,123.9 782,122.1 782.8,120.4 C783.7,118.8 784.9,117.2 786.2,115.9 C787.5,114.6 789,113.5 790.6,112.6 C792.3,111.7 794.1,111 796.1,110.5 C798.2,110 800.7,109.8 803,109.8 C805.3,109.8 807.8,110 809.9,110.5 C811.9,111 813.7,111.7 815.4,112.6 C817,113.5 818.5,114.6 819.8,115.9 C821.1,117.2 822.3,118.8 823.2,120.4 C824,122.1 824.7,123.9 825.2,126 C825.7,128 825.9,130.6 825.9,132.9Z" fill="#a8a7a9" stroke="#4b494b" stroke-width="1.45"/><path d="M819.7,132.9 C819.7,134.5 819.5,136.2 819.2,137.6 C818.9,139 818.3,140.1 817.7,141.3 C817,142.4 816.2,143.4 815.3,144.3 C814.3,145.2 813.2,145.9 812,146.5 C810.8,147.1 809.5,147.6 808,147.9 C806.5,148.2 804.7,148.4 803,148.4 C801.3,148.4 799.5,148.2 798,147.9 C796.5,147.6 795.2,147.1 794,146.5 C792.8,145.9 791.7,145.2 790.7,144.3 C789.8,143.4 789,142.4 788.3,141.3 C787.7,140.1 787.1,139 786.8,137.6 C786.5,136.2 786.3,134.5 786.3,132.9 C786.3,131.3 786.5,129.6 786.8,128.2 C787.1,126.8 787.7,125.7 788.3,124.5 C789,123.4 789.8,122.4 790.7,121.5 C791.7,120.6 792.8,119.9 794,119.3 C795.2,118.7 796.5,118.2 798,117.9 C799.5,117.6 801.3,117.4 803,117.4 C804.7,117.4 806.5,117.6 808,117.9 C809.5,118.2 810.8,118.7 812,119.3 C813.2,119.9 814.3,120.6 815.3,121.5 C816.2,122.4 817,123.4 817.7,124.5 C818.3,125.7 818.9,126.8 819.2,128.2 C819.5,129.6 819.7,131.3 819.7,132.9Z" fill="#6bc3a7" stroke="#4b494b" stroke-width="1.45"/><path d="M811.7,132.9 C811.7,133.8 811.6,134.7 811.4,135.5 C811.3,136.2 811,136.9 810.7,137.5 C810.3,138.1 809.9,138.7 809.4,139.1 C808.9,139.6 808.3,140 807.7,140.4 C807.1,140.7 806.4,141 805.6,141.1 C804.8,141.3 803.9,141.4 803,141.4 C802.1,141.4 801.2,141.3 800.4,141.1 C799.6,141 798.9,140.7 798.3,140.4 C797.7,140 797.1,139.6 796.6,139.1 C796.1,138.7 795.7,138.1 795.3,137.5 C795,136.9 794.7,136.2 794.6,135.5 C794.4,134.7 794.3,133.8 794.3,132.9 C794.3,132 794.4,131.1 794.6,130.3 C794.7,129.6 795,128.9 795.3,128.3 C795.7,127.7 796.1,127.1 796.6,126.7 C797.1,126.2 797.7,125.8 798.3,125.4 C798.9,125.1 799.6,124.8 800.4,124.7 C801.2,124.5 802.1,124.4 803,124.4 C803.9,124.4 804.8,124.5 805.6,124.7 C806.4,124.8 807.1,125.1 807.7,125.4 C808.3,125.8 808.9,126.2 809.4,126.7 C809.9,127.1 810.3,127.7 810.7,128.3 C811,128.9 811.3,129.6 811.4,130.3 C811.6,131.1 811.7,132 811.7,132.9Z" fill="#eabf45" stroke="#4b494b" stroke-width="1.45"/><path d="M924.3,175.8 C924.3,178.1 924,180.5 923.5,182.6 C922.9,184.6 922.1,186.3 921,188 C919.9,189.6 918.5,191.1 917,192.3 C915.4,193.6 913.6,194.7 911.6,195.6 C909.6,196.5 907.4,197.2 904.9,197.6 C902.4,198.1 899.4,198.3 896.6,198.3 C893.8,198.3 890.8,198.1 888.3,197.6 C885.8,197.2 883.6,196.5 881.6,195.6 C879.6,194.7 877.8,193.6 876.2,192.3 C874.7,191.1 873.3,189.6 872.2,188 C871.1,186.3 870.3,184.6 869.7,182.6 C869.2,180.5 868.9,178.1 868.9,175.8 C868.9,173.5 869.2,171.1 869.7,169 C870.3,167 871.1,165.3 872.2,163.6 C873.3,162 874.7,160.5 876.2,159.3 C877.8,158 879.6,156.9 881.6,156 C883.6,155.1 885.8,154.4 888.3,154 C890.8,153.5 893.8,153.3 896.6,153.3 C899.4,153.3 902.4,153.5 904.9,154 C907.4,154.4 909.6,155.1 911.6,156 C913.6,156.9 915.4,158 917,159.3 C918.5,160.5 919.9,162 921,163.6 C922.1,165.3 922.9,167 923.5,169 C924,171.1 924.3,173.5 924.3,175.8Z" fill="#a8a7a9" stroke="#4b494b" stroke-width="1.45"/><path d="M916.9,175.8 C916.9,177.4 916.7,179.1 916.3,180.6 C915.9,182 915.3,183.2 914.5,184.3 C913.7,185.5 912.7,186.5 911.5,187.4 C910.4,188.3 909,189.1 907.6,189.7 C906.1,190.3 904.5,190.8 902.7,191.1 C900.9,191.4 898.6,191.6 896.6,191.6 C894.6,191.6 892.3,191.4 890.5,191.1 C888.7,190.8 887.1,190.3 885.6,189.7 C884.2,189.1 882.8,188.3 881.7,187.4 C880.5,186.5 879.5,185.5 878.7,184.3 C877.9,183.2 877.3,182 876.9,180.6 C876.5,179.1 876.3,177.4 876.3,175.8 C876.3,174.2 876.5,172.5 876.9,171 C877.3,169.6 877.9,168.4 878.7,167.3 C879.5,166.1 880.5,165.1 881.7,164.2 C882.8,163.3 884.2,162.5 885.6,161.9 C887.1,161.3 888.7,160.8 890.5,160.5 C892.3,160.2 894.6,160 896.6,160 C898.6,160 900.9,160.2 902.7,160.5 C904.5,160.8 906.1,161.3 907.6,161.9 C909,162.5 910.4,163.3 911.5,164.2 C912.7,165.1 913.7,166.1 914.5,167.3 C915.3,168.4 915.9,169.6 916.3,171 C916.7,172.5 916.9,174.2 916.9,175.8Z" fill="#62aedc" stroke="#4b494b" stroke-width="1.45"/><path d="M907.2,175.8 C907.2,176.7 907.1,177.6 906.9,178.4 C906.7,179.2 906.3,179.9 905.9,180.5 C905.5,181.1 905,181.7 904.4,182.2 C903.8,182.7 903.1,183.1 902.3,183.5 C901.6,183.8 900.7,184.1 899.8,184.2 C898.8,184.4 897.7,184.5 896.6,184.5 C895.5,184.5 894.4,184.4 893.4,184.2 C892.5,184.1 891.6,183.8 890.9,183.5 C890.1,183.1 889.4,182.7 888.8,182.2 C888.2,181.7 887.7,181.1 887.3,180.5 C886.9,179.9 886.5,179.2 886.3,178.4 C886.1,177.6 886,176.7 886,175.8 C886,174.9 886.1,174 886.3,173.2 C886.5,172.4 886.9,171.7 887.3,171.1 C887.7,170.5 888.2,169.9 888.8,169.4 C889.4,168.9 890.1,168.5 890.9,168.1 C891.6,167.8 892.5,167.5 893.4,167.4 C894.4,167.2 895.5,167.1 896.6,167.1 C897.7,167.1 898.8,167.2 899.8,167.4 C900.7,167.5 901.6,167.8 902.3,168.1 C903.1,168.5 903.8,168.9 904.4,169.4 C905,169.9 905.5,170.5 905.9,171.1 C906.3,171.7 906.7,172.4 906.9,173.2 C907.1,174 907.2,174.9 907.2,175.8Z" fill="#ece12f" stroke="#4b494b" stroke-width="1.45"/><path d="M1006,201 C1006,203.1 1005.8,205.3 1005.5,207.2 C1005.1,209 1004.6,210.6 1003.9,212.1 C1003.2,213.6 1002.4,214.9 1001.4,216.1 C1000.4,217.2 999.2,218.2 998,219 C996.7,219.8 995.3,220.5 993.8,220.9 C992.2,221.3 990.3,221.5 988.5,221.5 C986.7,221.5 984.8,221.3 983.2,220.9 C981.7,220.5 980.3,219.8 979,219 C977.8,218.2 976.6,217.2 975.6,216.1 C974.6,214.9 973.8,213.6 973.1,212.1 C972.4,210.6 971.9,209 971.5,207.2 C971.2,205.3 971,203.1 971,201 C971,198.9 971.2,196.7 971.5,194.8 C971.9,193 972.4,191.4 973.1,189.9 C973.8,188.4 974.6,187.1 975.6,185.9 C976.6,184.8 977.8,183.8 979,183 C980.3,182.2 981.7,181.5 983.2,181.1 C984.8,180.7 986.7,180.5 988.5,180.5 C990.3,180.5 992.2,180.7 993.8,181.1 C995.3,181.5 996.7,182.2 998,183 C999.2,183.8 1000.4,184.8 1001.4,185.9 C1002.4,187.1 1003.2,188.4 1003.9,189.9 C1004.6,191.4 1005.1,193 1005.5,194.8 C1005.8,196.7 1006,198.9 1006,201Z" fill="#a8a7a9" stroke="#4b494b" stroke-width="1.45"/><path d="M1002,201 C1002,202.4 1001.9,204 1001.6,205.2 C1001.3,206.5 1000.9,207.5 1000.4,208.6 C999.9,209.6 999.2,210.5 998.4,211.3 C997.7,212.1 996.8,212.8 995.8,213.3 C994.8,213.9 993.8,214.3 992.6,214.6 C991.3,214.9 989.9,215 988.5,215 C987.1,215 985.7,214.9 984.4,214.6 C983.2,214.3 982.2,213.9 981.2,213.3 C980.2,212.8 979.3,212.1 978.6,211.3 C977.8,210.5 977.1,209.6 976.6,208.6 C976.1,207.5 975.7,206.5 975.4,205.2 C975.1,204 975,202.4 975,201 C975,199.6 975.1,198 975.4,196.8 C975.7,195.5 976.1,194.5 976.6,193.4 C977.1,192.4 977.8,191.5 978.6,190.7 C979.3,189.9 980.2,189.2 981.2,188.7 C982.2,188.1 983.2,187.7 984.4,187.4 C985.7,187.1 987.1,187 988.5,187 C989.9,187 991.3,187.1 992.6,187.4 C993.8,187.7 994.8,188.1 995.8,188.7 C996.8,189.2 997.7,189.9 998.4,190.7 C999.2,191.5 999.9,192.4 1000.4,193.4 C1000.9,194.5 1001.3,195.5 1001.6,196.8 C1001.9,198 1002,199.6 1002,201Z" fill="#6bc3a7" stroke="#4b494b" stroke-width="1.45"/><path d="M997,201 C997,201.8 996.9,202.6 996.7,203.3 C996.6,203.9 996.3,204.5 996,205.1 C995.6,205.6 995.2,206.1 994.7,206.5 C994.3,206.9 993.7,207.3 993.1,207.6 C992.5,207.9 991.8,208.1 991.1,208.3 C990.3,208.4 989.4,208.5 988.5,208.5 C987.6,208.5 986.7,208.4 985.9,208.3 C985.2,208.1 984.5,207.9 983.9,207.6 C983.3,207.3 982.7,206.9 982.3,206.5 C981.8,206.1 981.4,205.6 981,205.1 C980.7,204.5 980.4,203.9 980.3,203.3 C980.1,202.6 980,201.8 980,201 C980,200.2 980.1,199.4 980.3,198.7 C980.4,198.1 980.7,197.5 981,196.9 C981.4,196.4 981.8,195.9 982.3,195.5 C982.7,195.1 983.3,194.7 983.9,194.4 C984.5,194.1 985.2,193.9 985.9,193.7 C986.7,193.6 987.6,193.5 988.5,193.5 C989.4,193.5 990.3,193.6 991.1,193.7 C991.8,193.9 992.5,194.1 993.1,194.4 C993.7,194.7 994.3,195.1 994.7,195.5 C995.2,195.9 995.6,196.4 996,196.9 C996.3,197.5 996.6,198.1 996.7,198.7 C996.9,199.4 997,200.2 997,201Z" fill="#eabf45" stroke="#4b494b" stroke-width="1.45"/><path d="M761.4,222 C761.4,223.7 761.3,225.5 761,227 C760.8,228.4 760.4,229.7 759.9,230.9 C759.4,232.1 758.8,233.2 758.1,234.1 C757.4,235.1 756.6,235.9 755.7,236.5 C754.8,237.2 753.8,237.7 752.7,238 C751.6,238.3 750.2,238.5 749,238.5 C747.8,238.5 746.4,238.3 745.3,238 C744.2,237.7 743.2,237.2 742.3,236.5 C741.4,235.9 740.6,235.1 739.9,234.1 C739.2,233.2 738.6,232.1 738.1,230.9 C737.6,229.7 737.2,228.4 737,227 C736.7,225.5 736.6,223.7 736.6,222 C736.6,220.3 736.7,218.5 737,217 C737.2,215.6 737.6,214.3 738.1,213.1 C738.6,211.9 739.2,210.8 739.9,209.9 C740.6,208.9 741.4,208.1 742.3,207.5 C743.2,206.8 744.2,206.3 745.3,206 C746.4,205.7 747.8,205.5 749,205.5 C750.2,205.5 751.6,205.7 752.7,206 C753.8,206.3 754.8,206.8 755.7,207.5 C756.6,208.1 757.4,208.9 758.1,209.9 C758.8,210.8 759.4,211.9 759.9,213.1 C760.4,214.3 760.8,215.6 761,217 C761.3,218.5 761.4,220.3 761.4,222Z" fill="#a8a7a9" stroke="#4b494b" stroke-width="1.45"/><path d="M756,222 C756,223 755.9,224.1 755.8,225 C755.6,225.9 755.4,226.7 755.2,227.4 C754.9,228.1 754.5,228.8 754.1,229.3 C753.7,229.9 753.3,230.4 752.8,230.8 C752.3,231.2 751.7,231.5 751.1,231.7 C750.5,231.9 749.7,232 749,232 C748.3,232 747.5,231.9 746.9,231.7 C746.3,231.5 745.7,231.2 745.2,230.8 C744.7,230.4 744.3,229.9 743.9,229.3 C743.5,228.8 743.1,228.1 742.8,227.4 C742.6,226.7 742.4,225.9 742.2,225 C742.1,224.1 742,223 742,222 C742,221 742.1,219.9 742.2,219 C742.4,218.1 742.6,217.3 742.8,216.6 C743.1,215.9 743.5,215.2 743.9,214.7 C744.3,214.1 744.7,213.6 745.2,213.2 C745.7,212.8 746.3,212.5 746.9,212.3 C747.5,212.1 748.3,212 749,212 C749.7,212 750.5,212.1 751.1,212.3 C751.7,212.5 752.3,212.8 752.8,213.2 C753.3,213.6 753.7,214.1 754.1,214.7 C754.5,215.2 754.9,215.9 755.2,216.6 C755.4,217.3 755.6,218.1 755.8,219 C755.9,219.9 756,221 756,222Z" fill="#ec8a35" stroke="#4b494b" stroke-width="1.45"/><path d="M753,222 C753,222.6 753,223.3 752.9,223.8 C752.8,224.3 752.7,224.8 752.5,225.2 C752.4,225.7 752.2,226.1 751.9,226.4 C751.7,226.7 751.4,227 751.2,227.3 C750.9,227.5 750.6,227.7 750.2,227.8 C749.8,227.9 749.4,228 749,228 C748.6,228 748.2,227.9 747.8,227.8 C747.4,227.7 747.1,227.5 746.8,227.3 C746.6,227 746.3,226.7 746.1,226.4 C745.8,226.1 745.6,225.7 745.5,225.2 C745.3,224.8 745.2,224.3 745.1,223.8 C745,223.3 745,222.6 745,222 C745,221.4 745,220.7 745.1,220.2 C745.2,219.7 745.3,219.2 745.5,218.8 C745.6,218.3 745.8,217.9 746.1,217.6 C746.3,217.3 746.6,217 746.8,216.7 C747.1,216.5 747.4,216.3 747.8,216.2 C748.2,216.1 748.6,216 749,216 C749.4,216 749.8,216.1 750.2,216.2 C750.6,216.3 750.9,216.5 751.2,216.7 C751.4,217 751.7,217.3 751.9,217.6 C752.2,217.9 752.4,218.3 752.5,218.8 C752.7,219.2 752.8,219.7 752.9,220.2 C753,220.7 753,221.4 753,222Z" fill="#eabf45" stroke="#4b494b" stroke-width="1.45"/><path d="M801,285.3 C801,287.7 800.8,290.3 800.4,292.5 C800.1,294.6 799.5,296.4 798.7,298.2 C798,299.9 797.1,301.4 796,302.8 C795,304.1 793.7,305.3 792.4,306.2 C791,307.2 789.5,307.9 787.9,308.4 C786.2,308.9 784.1,309.1 782.2,309.1 C780.3,309.1 778.2,308.9 776.5,308.4 C774.9,307.9 773.4,307.2 772,306.2 C770.7,305.3 769.4,304.1 768.4,302.8 C767.3,301.4 766.4,299.9 765.7,298.2 C764.9,296.4 764.3,294.6 764,292.5 C763.6,290.3 763.4,287.7 763.4,285.3 C763.4,282.9 763.6,280.3 764,278.1 C764.3,276 764.9,274.2 765.7,272.4 C766.4,270.7 767.3,269.2 768.4,267.8 C769.4,266.5 770.7,265.3 772,264.4 C773.4,263.4 774.9,262.7 776.5,262.2 C778.2,261.7 780.3,261.5 782.2,261.5 C784.1,261.5 786.2,261.7 787.9,262.2 C789.5,262.7 791,263.4 792.4,264.4 C793.7,265.3 795,266.5 796,267.8 C797.1,269.2 798,270.7 798.7,272.4 C799.5,274.2 800.1,276 800.4,278.1 C800.8,280.3 801,282.9 801,285.3Z" fill="#a8a7a9" stroke="#4b494b" stroke-width="1.45"/><path d="M796.4,285.3 C796.4,287 796.3,289 796,290.5 C795.7,292.1 795.3,293.4 794.7,294.7 C794.1,296 793.4,297.1 792.6,298.1 C791.8,299.1 790.9,299.9 789.9,300.6 C788.8,301.3 787.7,301.8 786.5,302.2 C785.2,302.5 783.6,302.7 782.2,302.7 C780.8,302.7 779.2,302.5 777.9,302.2 C776.7,301.8 775.6,301.3 774.5,300.6 C773.5,299.9 772.6,299.1 771.8,298.1 C771,297.1 770.3,296 769.7,294.7 C769.1,293.4 768.7,292.1 768.4,290.5 C768.1,289 768,287 768,285.3 C768,283.6 768.1,281.6 768.4,280.1 C768.7,278.5 769.1,277.2 769.7,275.9 C770.3,274.6 771,273.5 771.8,272.5 C772.6,271.5 773.5,270.7 774.5,270 C775.6,269.3 776.7,268.8 777.9,268.4 C779.2,268.1 780.8,267.9 782.2,267.9 C783.6,267.9 785.2,268.1 786.5,268.4 C787.7,268.8 788.8,269.3 789.9,270 C790.9,270.7 791.8,271.5 792.6,272.5 C793.4,273.5 794.1,274.6 794.7,275.9 C795.3,277.2 795.7,278.5 796,280.1 C796.3,281.6 796.4,283.6 796.4,285.3Z" fill="#1fa766" stroke="#4b494b" stroke-width="1.45"/><path d="M791.6,285.3 C791.6,286.5 791.5,287.7 791.3,288.8 C791.1,289.8 790.8,290.7 790.5,291.5 C790.1,292.3 789.6,293.1 789.1,293.8 C788.6,294.4 788,295 787.3,295.4 C786.6,295.9 785.9,296.2 785,296.5 C784.2,296.7 783.1,296.8 782.2,296.8 C781.3,296.8 780.2,296.7 779.4,296.5 C778.5,296.2 777.8,295.9 777.1,295.4 C776.4,295 775.8,294.4 775.3,293.8 C774.8,293.1 774.3,292.3 773.9,291.5 C773.6,290.7 773.3,289.8 773.1,288.8 C772.9,287.7 772.8,286.5 772.8,285.3 C772.8,284.1 772.9,282.9 773.1,281.8 C773.3,280.8 773.6,279.9 773.9,279.1 C774.3,278.3 774.8,277.5 775.3,276.8 C775.8,276.2 776.4,275.6 777.1,275.2 C777.8,274.7 778.5,274.4 779.4,274.1 C780.2,273.9 781.3,273.8 782.2,273.8 C783.1,273.8 784.2,273.9 785,274.1 C785.9,274.4 786.6,274.7 787.3,275.2 C788,275.6 788.6,276.2 789.1,276.8 C789.6,277.5 790.1,278.3 790.5,279.1 C790.8,279.9 791.1,280.8 791.3,281.8 C791.5,282.9 791.6,284.1 791.6,285.3Z" fill="#ece12f" stroke="#4b494b" stroke-width="1.45"/><path d="M904.1,296.8 C904.1,299.1 903.8,301.5 903.3,303.6 C902.7,305.6 901.9,307.3 900.8,309 C899.7,310.6 898.3,312.1 896.7,313.3 C895.2,314.6 893.3,315.7 891.3,316.6 C889.3,317.5 887.2,318.2 884.7,318.6 C882.2,319.1 879.1,319.3 876.3,319.3 C873.5,319.3 870.4,319.1 867.9,318.6 C865.4,318.2 863.3,317.5 861.3,316.6 C859.3,315.7 857.4,314.6 855.9,313.3 C854.3,312.1 852.9,310.6 851.8,309 C850.7,307.3 849.9,305.6 849.3,303.6 C848.8,301.5 848.5,299.1 848.5,296.8 C848.5,294.5 848.8,292.1 849.3,290 C849.9,288 850.7,286.3 851.8,284.6 C852.9,283 854.3,281.5 855.9,280.3 C857.4,279 859.3,277.9 861.3,277 C863.3,276.1 865.4,275.4 867.9,275 C870.4,274.5 873.5,274.3 876.3,274.3 C879.1,274.3 882.2,274.5 884.7,275 C887.2,275.4 889.3,276.1 891.3,277 C893.3,277.9 895.2,279 896.7,280.3 C898.3,281.5 899.7,283 900.8,284.6 C901.9,286.3 902.7,288 903.3,290 C903.8,292.1 904.1,294.5 904.1,296.8Z" fill="#a8a7a9" stroke="#4b494b" stroke-width="1.45"/><path d="M896.3,296.8 C896.3,298.4 896.1,300.2 895.7,301.6 C895.3,303.1 894.7,304.3 893.9,305.4 C893.1,306.6 892.1,307.7 891,308.6 C889.9,309.5 888.5,310.3 887.1,310.9 C885.7,311.5 884.1,312 882.3,312.3 C880.5,312.6 878.3,312.8 876.3,312.8 C874.3,312.8 872.1,312.6 870.3,312.3 C868.5,312 866.9,311.5 865.5,310.9 C864.1,310.3 862.7,309.5 861.6,308.6 C860.5,307.7 859.5,306.6 858.7,305.4 C857.9,304.3 857.3,303.1 856.9,301.6 C856.5,300.2 856.3,298.4 856.3,296.8 C856.3,295.2 856.5,293.4 856.9,292 C857.3,290.5 857.9,289.3 858.7,288.2 C859.5,287 860.5,285.9 861.6,285 C862.7,284.1 864.1,283.3 865.5,282.7 C866.9,282.1 868.5,281.6 870.3,281.3 C872.1,281 874.3,280.8 876.3,280.8 C878.3,280.8 880.5,281 882.3,281.3 C884.1,281.6 885.7,282.1 887.1,282.7 C888.5,283.3 889.9,284.1 891,285 C892.1,285.9 893.1,287 893.9,288.2 C894.7,289.3 895.3,290.5 895.7,292 C896.1,293.4 896.3,295.2 896.3,296.8Z" fill="#b350a6" stroke="#4b494b" stroke-width="1.45"/><path d="M887.2,296.8 C887.2,297.6 887.1,298.6 886.9,299.3 C886.7,300.1 886.3,300.7 885.9,301.3 C885.5,301.9 884.9,302.5 884.3,303 C883.7,303.4 883,303.9 882.2,304.2 C881.4,304.5 880.6,304.8 879.6,304.9 C878.6,305.1 877.4,305.2 876.3,305.2 C875.2,305.2 874,305.1 873,304.9 C872,304.8 871.2,304.5 870.4,304.2 C869.6,303.9 868.9,303.4 868.3,303 C867.7,302.5 867.1,301.9 866.7,301.3 C866.3,300.7 865.9,300.1 865.7,299.3 C865.5,298.6 865.4,297.6 865.4,296.8 C865.4,296 865.5,295 865.7,294.3 C865.9,293.5 866.3,292.9 866.7,292.3 C867.1,291.7 867.7,291.1 868.3,290.6 C868.9,290.2 869.6,289.7 870.4,289.4 C871.2,289.1 872,288.8 873,288.7 C874,288.5 875.2,288.4 876.3,288.4 C877.4,288.4 878.6,288.5 879.6,288.7 C880.6,288.8 881.4,289.1 882.2,289.4 C883,289.7 883.7,290.2 884.3,290.6 C884.9,291.1 885.5,291.7 885.9,292.3 C886.3,292.9 886.7,293.5 886.9,294.3 C887.1,295 887.2,296 887.2,296.8Z" fill="#eabf45" stroke="#4b494b" stroke-width="1.45"/><path d="M993.5,314.8 C993.5,316.6 993.4,318.6 993.2,320.2 C992.9,321.8 992.6,323.1 992.1,324.4 C991.7,325.7 991.1,326.9 990.5,327.9 C989.8,328.9 989,329.8 988.2,330.5 C987.4,331.2 986.5,331.7 985.5,332.1 C984.4,332.4 983.2,332.6 982,332.6 C980.8,332.6 979.6,332.4 978.5,332.1 C977.5,331.7 976.6,331.2 975.8,330.5 C975,329.8 974.2,328.9 973.5,327.9 C972.9,326.9 972.3,325.7 971.9,324.4 C971.4,323.1 971.1,321.8 970.8,320.2 C970.6,318.6 970.5,316.6 970.5,314.8 C970.5,313 970.6,311 970.8,309.4 C971.1,307.8 971.4,306.5 971.9,305.2 C972.3,303.9 972.9,302.7 973.5,301.7 C974.2,300.7 975,299.8 975.8,299.1 C976.6,298.4 977.5,297.9 978.5,297.5 C979.6,297.2 980.8,297 982,297 C983.2,297 984.4,297.2 985.5,297.5 C986.5,297.9 987.4,298.4 988.2,299.1 C989,299.8 989.8,300.7 990.5,301.7 C991.1,302.7 991.7,303.9 992.1,305.2 C992.6,306.5 992.9,307.8 993.2,309.4 C993.4,311 993.5,313 993.5,314.8Z" fill="#a8a7a9" stroke="#4b494b" stroke-width="1.45"/><path d="M989.5,314.8 C989.5,316.2 989.4,317.6 989.3,318.9 C989.1,320.1 988.9,321.1 988.6,322.1 C988.3,323.1 987.9,324 987.5,324.7 C987.1,325.5 986.6,326.2 986.1,326.7 C985.5,327.2 984.9,327.6 984.3,327.9 C983.6,328.2 982.8,328.3 982,328.3 C981.2,328.3 980.4,328.2 979.7,327.9 C979.1,327.6 978.5,327.2 977.9,326.7 C977.4,326.2 976.9,325.5 976.5,324.7 C976.1,324 975.7,323.1 975.4,322.1 C975.1,321.1 974.9,320.1 974.7,318.9 C974.6,317.6 974.5,316.2 974.5,314.8 C974.5,313.4 974.6,312 974.7,310.7 C974.9,309.5 975.1,308.5 975.4,307.5 C975.7,306.5 976.1,305.6 976.5,304.9 C976.9,304.1 977.4,303.4 977.9,302.9 C978.5,302.4 979.1,302 979.7,301.7 C980.4,301.4 981.2,301.3 982,301.3 C982.8,301.3 983.6,301.4 984.3,301.7 C984.9,302 985.5,302.4 986.1,302.9 C986.6,303.4 987.1,304.1 987.5,304.9 C987.9,305.6 988.3,306.5 988.6,307.5 C988.9,308.5 989.1,309.5 989.3,310.7 C989.4,312 989.5,313.4 989.5,314.8Z" fill="#e67ba2" stroke="#4b494b" stroke-width="1.45"/><path d="M986,314.8 C986,315.6 986,316.5 985.9,317.2 C985.8,317.9 985.7,318.5 985.5,319.1 C985.4,319.7 985.2,320.2 984.9,320.7 C984.7,321.1 984.4,321.5 984.2,321.8 C983.9,322.2 983.6,322.4 983.2,322.6 C982.8,322.7 982.4,322.8 982,322.8 C981.6,322.8 981.2,322.7 980.8,322.6 C980.4,322.4 980.1,322.2 979.8,321.8 C979.6,321.5 979.3,321.1 979.1,320.7 C978.8,320.2 978.6,319.7 978.5,319.1 C978.3,318.5 978.2,317.9 978.1,317.2 C978,316.5 978,315.6 978,314.8 C978,314 978,313.1 978.1,312.4 C978.2,311.7 978.3,311.1 978.5,310.5 C978.6,309.9 978.8,309.4 979.1,308.9 C979.3,308.5 979.6,308.1 979.8,307.8 C980.1,307.4 980.4,307.2 980.8,307 C981.2,306.9 981.6,306.8 982,306.8 C982.4,306.8 982.8,306.9 983.2,307 C983.6,307.2 983.9,307.4 984.2,307.8 C984.4,308.1 984.7,308.5 984.9,308.9 C985.2,309.4 985.4,309.9 985.5,310.5 C985.7,311.1 985.8,311.7 985.9,312.4 C986,313.1 986,314 986,314.8Z" fill="#eabf45" stroke="#4b494b" stroke-width="1.45"/><path d="M746.2,191.8 L749.2,196.7 L752.1,198.6 L755.1,200.1 L758,201.3 L761,202.4 L763.9,203.4 L766.9,204.2 L769.9,205 L772.8,205.7 L775.8,206.4 L778.7,207 L781.7,207.6 L784.6,208.1 L787.6,208.6 L790.6,209.1 L793.5,209.5 L796.5,210 L799.4,210.4 L802.4,210.7 L805.4,211.1 L808.3,211.4 L811.3,211.7 L814.2,212 L817.2,212.3 L820.1,212.6 L823.1,212.8 L826.1,213.1 L829,213.3 L832,213.5 L834.9,213.7 L837.9,213.9 L840.8,214 L843.8,214.2 L846.8,214.3 L849.7,214.5 L852.7,214.6 L855.6,214.7 L858.6,214.8 L861.5,214.9 L864.5,214.9 L867.5,215 L870.4,215 L873.4,215.1 L876.3,215.1 L879.3,215.1 L882.2,215.1 L885.2,215.1 L888.2,215.1 L891.1,215 L894.1,215 L897,214.9 L900,214.9 L902.9,214.8 L905.9,214.7 L908.9,214.6 L911.8,214.5 L914.8,214.4 L917.7,214.2 L920.7,214.1 L923.6,213.9 L926.6,213.7 L929.6,213.5 L932.5,213.3 L935.5,213.1 L938.4,212.9 L941.4,212.6 L944.4,212.4 L947.3,212.1 L950.3,211.8 L953.2,211.5 L956.2,211.1 L959.1,210.8 L962.1,210.4 L965.1,210 L968,209.6 L971,209.2 L973.9,208.7 L976.9,208.2 L979.8,207.6 L982.8,207.1 L982.8,233.1 L979.8,233.6 L976.9,234.2 L973.9,234.7 L971,235.2 L968,235.6 L965.1,236 L962.1,236.4 L959.1,236.8 L956.2,237.1 L953.2,237.5 L950.3,237.8 L947.3,238.1 L944.4,238.4 L941.4,238.6 L938.4,238.9 L935.5,239.1 L932.5,239.3 L929.6,239.5 L926.6,239.7 L923.6,239.9 L920.7,240.1 L917.7,240.2 L914.8,240.4 L911.8,240.5 L908.9,240.6 L905.9,240.7 L902.9,240.8 L900,240.9 L897,240.9 L894.1,241 L891.1,241 L888.2,241.1 L885.2,241.1 L882.2,241.1 L879.3,241.1 L876.3,241.1 L873.4,241.1 L870.4,241 L867.5,241 L864.5,240.9 L861.5,240.9 L858.6,240.8 L855.6,240.7 L852.7,240.6 L849.7,240.5 L846.8,240.3 L843.8,240.2 L840.8,240 L837.9,239.9 L834.9,239.7 L832,239.5 L829,239.3 L826.1,239.1 L823.1,238.8 L820.1,238.6 L817.2,238.3 L814.2,238 L811.3,237.7 L808.3,237.4 L805.4,237.1 L802.4,236.7 L799.4,236.4 L796.5,236 L793.5,235.5 L790.6,235.1 L787.6,234.6 L784.6,234.1 L781.7,233.6 L778.7,233 L775.8,232.4 L772.8,231.7 L769.9,231 L766.9,230.2 L763.9,229.4 L761,228.4 L758,227.3 L755.1,226.1 L752.1,224.6 L749.2,222.7 L746.2,217.8Z" fill="#7e2959"/><path d="M746.2,194.4 L749.2,199.3 L752.1,201.2 L755.1,202.7 L758,203.9 L761,205 L763.9,206 L766.9,206.8 L769.9,207.6 L772.8,208.3 L775.8,209 L778.7,209.6 L781.7,210.2 L784.6,210.7 L787.6,211.2 L790.6,211.7 L793.5,212.1 L796.5,212.6 L799.4,213 L802.4,213.3 L805.4,213.7 L808.3,214 L811.3,214.3 L814.2,214.6 L817.2,214.9 L820.1,215.2 L823.1,215.4 L826.1,215.7 L829,215.9 L832,216.1 L834.9,216.3 L837.9,216.5 L840.8,216.6 L843.8,216.8 L846.8,216.9 L849.7,217.1 L852.7,217.2 L855.6,217.3 L858.6,217.4 L861.5,217.5 L864.5,217.5 L867.5,217.6 L870.4,217.6 L873.4,217.7 L876.3,217.7 L879.3,217.7 L882.2,217.7 L885.2,217.7 L888.2,217.7 L891.1,217.6 L894.1,217.6 L897,217.5 L900,217.5 L902.9,217.4 L905.9,217.3 L908.9,217.2 L911.8,217.1 L914.8,217 L917.7,216.8 L920.7,216.7 L923.6,216.5 L926.6,216.3 L929.6,216.1 L932.5,215.9 L935.5,215.7 L938.4,215.5 L941.4,215.2 L944.4,215 L947.3,214.7 L950.3,214.4 L953.2,214.1 L956.2,213.7 L959.1,213.4 L962.1,213 L965.1,212.6 L968,212.2 L971,211.8 L973.9,211.3 L976.9,210.8 L979.8,210.2 L982.8,209.7" fill="none" stroke="#eadde5" stroke-width="0.9" stroke-dasharray="2.6 1.4"/><path d="M746.2,215.2 L749.2,220.1 L752.1,222 L755.1,223.5 L758,224.7 L761,225.8 L763.9,226.8 L766.9,227.6 L769.9,228.4 L772.8,229.1 L775.8,229.8 L778.7,230.4 L781.7,231 L784.6,231.5 L787.6,232 L790.6,232.5 L793.5,232.9 L796.5,233.4 L799.4,233.8 L802.4,234.1 L805.4,234.5 L808.3,234.8 L811.3,235.1 L814.2,235.4 L817.2,235.7 L820.1,236 L823.1,236.2 L826.1,236.5 L829,236.7 L832,236.9 L834.9,237.1 L837.9,237.3 L840.8,237.4 L843.8,237.6 L846.8,237.7 L849.7,237.9 L852.7,238 L855.6,238.1 L858.6,238.2 L861.5,238.3 L864.5,238.3 L867.5,238.4 L870.4,238.4 L873.4,238.5 L876.3,238.5 L879.3,238.5 L882.2,238.5 L885.2,238.5 L888.2,238.5 L891.1,238.4 L894.1,238.4 L897,238.3 L900,238.3 L902.9,238.2 L905.9,238.1 L908.9,238 L911.8,237.9 L914.8,237.8 L917.7,237.6 L920.7,237.5 L923.6,237.3 L926.6,237.1 L929.6,236.9 L932.5,236.7 L935.5,236.5 L938.4,236.3 L941.4,236 L944.4,235.8 L947.3,235.5 L950.3,235.2 L953.2,234.9 L956.2,234.5 L959.1,234.2 L962.1,233.8 L965.1,233.4 L968,233 L971,232.6 L973.9,232.1 L976.9,231.6 L979.8,231 L982.8,230.5" fill="none" stroke="#eadde5" stroke-width="0.9" stroke-dasharray="2.6 1.4"/></g></g><use href="#row" transform="translate(0,366)"/><use href="#row" transform="translate(0,727)"/><use href="#row" transform="translate(0,1093)"/><g font-family="Liberation Sans" fill="#000"><text transform="translate(559,239.2) scale(1,1.047)" font-size="63.5">C</text><text x="604.8" y="239.2" font-size="63.5">up</text><path transform="translate(0,0.2)" d="M714.8,193.6 L710.3,193.6 C707.5,198.5 702.5,202.5 697.4,205.2 L697.4,210.4 C701.5,208.8 705.6,206.4 708.8,203.6 L708.8,239 L714.8,239 Z"/><text transform="translate(558.5,591.8) scale(1,1.047)" font-size="63.5">C</text><text x="604.3" y="591.8" font-size="63.5">up</text><text transform="translate(690.8,591.8) scale(1,1.047)" font-size="63.5">2</text><text transform="translate(555,958) scale(1,1.047)" font-size="63.5">C</text><text x="600.8" y="958" font-size="63.5">up</text><text transform="translate(687.3,958) scale(1,1.047)" font-size="63.5">3</text><text transform="translate(555,1309.6) scale(1,1.047)" font-size="63.5">C</text><text x="600.8" y="1309.6" font-size="63.5">up</text><text transform="translate(687.3,1309.6) scale(1,1.047)" font-size="63.5">4</text><text transform="translate(96,662) rotate(90) scale(1,1.045)" font-size="75">F</text><text transform="translate(96,707.8) rotate(90)" font-size="75">ront</text><text transform="translate(1159.6,663.3) rotate(90) scale(1,1.03)" font-size="75">B</text><text transform="translate(1159.6,713.3) rotate(90)" font-size="75">ack</text></g></svg></body></html>
